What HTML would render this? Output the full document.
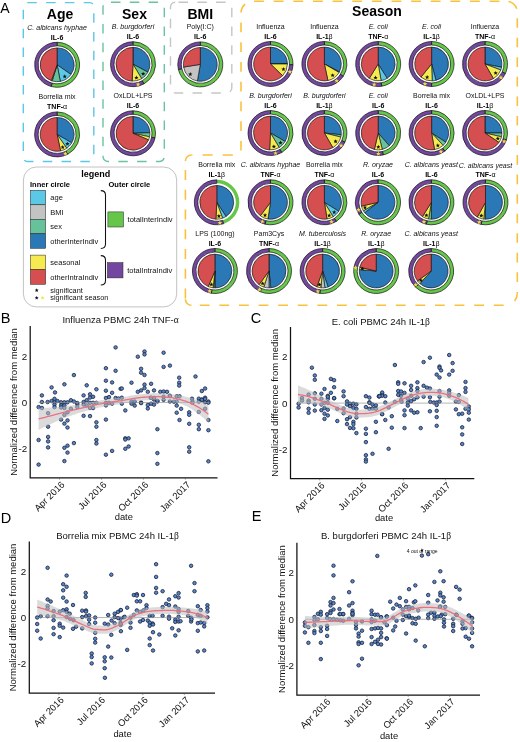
<!DOCTYPE html>
<html><head><meta charset="utf-8"><style>html,body{margin:0;padding:0;background:#fff;}svg{display:block;filter:blur(0.3px);} text{font-family:"Liberation Sans", sans-serif;}</style></head><body>
<svg width="520" height="742" viewBox="0 0 520 742" font-family='"Liberation Sans", sans-serif'>
<rect x="23.3" y="2.6" width="70.5" height="158.9" rx="4" fill="none" stroke="#5BC8E6" stroke-width="1.4" stroke-dasharray="9.5 9.3" stroke-dashoffset="0"/>
<rect x="103" y="2.2" width="61.3" height="159.3" rx="5" fill="none" stroke="#6CC49E" stroke-width="1.4" stroke-dasharray="9.5 9.3" stroke-dashoffset="-3"/>
<rect x="170.5" y="2.2" width="61.3" height="90.8" rx="5" fill="none" stroke="#C6C6C6" stroke-width="1.4" stroke-dasharray="9.5 9.3" stroke-dashoffset="-3"/>
<path d="M253,1.2 L506.3,1.2" fill="none" stroke="#F9C23C" stroke-width="1.6" stroke-dasharray="9.8 9.83" stroke-dashoffset="-1.1"/>
<path d="M506.3,1.2 A11,11 0 0 1 517.3,12.2" fill="none" stroke="#F9C23C" stroke-width="1.6" stroke-dasharray="11.3 48.70" stroke-dashoffset="-2.3"/>
<path d="M517.3,12.2 L517.3,293.3" fill="none" stroke="#F9C23C" stroke-width="1.6" stroke-dasharray="9.6 9.95" stroke-dashoffset="-6.0"/>
<path d="M517.3,293.3 A12,12 0 0 1 505.3,305.3" fill="none" stroke="#F9C23C" stroke-width="1.6" stroke-dasharray="8.2 51.80" stroke-dashoffset="0"/>
<path d="M505.3,305.3 L191.4,305.3" fill="none" stroke="#F9C23C" stroke-width="1.6" stroke-dasharray="9.8 9.80" stroke-dashoffset="-1.7"/>
<path d="M191.4,305.3 A6,6 0 0 1 185.4,299.3" fill="none" stroke="#F9C23C" stroke-width="1.6"/>
<path d="M185.4,161 L185.4,299.3" fill="none" stroke="#F9C23C" stroke-width="1.6" stroke-dasharray="10.0 9.75" stroke-dashoffset="-8.9"/>
<path d="M185.4,161 A6,6 0 0 1 191.4,155.0" fill="none" stroke="#F9C23C" stroke-width="1.6"/>
<path d="M191.4,155.0 L236,155.0" fill="none" stroke="#F9C23C" stroke-width="1.6" stroke-dasharray="10.1 10.10" stroke-dashoffset="-11.1"/>
<path d="M241.0,13.2 L241.0,150.6" fill="none" stroke="#F9C23C" stroke-width="1.6" stroke-dasharray="9.7 10.02" stroke-dashoffset="-9.4"/>
<path d="M241.0,13.2 A12,12 0 0 1 253,1.2" fill="none" stroke="#F9C23C" stroke-width="1.6" stroke-dasharray="9.3 50.70" stroke-dashoffset="-0.8"/>
<text x="60" y="18.6" font-size="14" font-weight="bold" text-anchor="middle">Age</text>
<text x="134.5" y="18.6" font-size="14" font-weight="bold" text-anchor="middle">Sex</text>
<text x="200.3" y="18.6" font-size="14" font-weight="bold" text-anchor="middle">BMI</text>
<text x="377" y="16.3" font-size="14" font-weight="bold" text-anchor="middle">Season</text>
<text x="0.2" y="12.7" font-size="14">A</text>
<path d="M57.1,42.3 A22.5,22.5 0 1 1 51.28,86.53 L52.18,83.15 A19.0,19.0 0 1 0 57.1,45.8 Z" fill="#66C64A" stroke="#111" stroke-width="0.7"/>
<path d="M51.28,86.53 A22.5,22.5 0 0 1 57.1,42.3 L57.1,45.8 A19.0,19.0 0 0 0 52.18,83.15 Z" fill="#7347A0" stroke="#111" stroke-width="0.7"/>
<path d="M57.1,64.8 L57.1,47.9 A16.9,16.9 0 0 1 70.94,74.49 Z" fill="#2A78B5" stroke="#111" stroke-width="0.65" stroke-linejoin="round"/>
<path d="M57.1,64.8 L70.94,74.49 A16.9,16.9 0 0 1 60.32,81.39 Z" fill="#5BC8E6" stroke="#111" stroke-width="0.65" stroke-linejoin="round"/>
<path d="M57.1,64.8 L60.32,81.39 A16.9,16.9 0 0 1 52.16,80.96 Z" fill="#66C29A" stroke="#111" stroke-width="0.65" stroke-linejoin="round"/>
<path d="M57.1,64.8 L52.16,80.96 A16.9,16.9 0 0 1 51.32,80.68 Z" fill="#F5EB50" stroke="#111" stroke-width="0.65" stroke-linejoin="round"/>
<path d="M57.1,64.8 L51.32,80.68 A16.9,16.9 0 0 1 57.1,47.9 Z" fill="#D54E50" stroke="#111" stroke-width="0.65" stroke-linejoin="round"/>
<polygon points="64.72,74.34 65.31,75.74 66.82,75.86 65.67,76.85 66.02,78.32 64.72,77.53 63.43,78.32 63.78,76.85 62.63,75.86 64.14,75.74" fill="#111"/>
<text x="57.1" y="29.6" font-size="7" font-style="italic" text-anchor="middle" fill="#111">C. albicans hyphae</text>
<text x="57.1" y="39.5" font-size="7" font-weight="bold" text-anchor="middle" fill="#000">IL-6</text>
<path d="M57.1,111.9 A22.5,22.5 0 0 1 67.66,154.27 L66.02,151.18 A19.0,19.0 0 0 0 57.1,115.4 Z" fill="#66C64A" stroke="#111" stroke-width="0.7"/>
<path d="M67.66,154.27 A22.5,22.5 0 1 1 57.1,111.9 L57.1,115.4 A19.0,19.0 0 1 0 66.02,151.18 Z" fill="#7347A0" stroke="#111" stroke-width="0.7"/>
<path d="M57.1,134.4 L57.1,117.5 A16.9,16.9 0 0 1 71.74,142.85 Z" fill="#2A78B5" stroke="#111" stroke-width="0.65" stroke-linejoin="round"/>
<path d="M57.1,134.4 L71.74,142.85 A16.9,16.9 0 0 1 66.79,148.24 Z" fill="#5BC8E6" stroke="#111" stroke-width="0.65" stroke-linejoin="round"/>
<path d="M57.1,134.4 L66.79,148.24 A16.9,16.9 0 0 1 60.61,150.93 Z" fill="#F5EB50" stroke="#111" stroke-width="0.65" stroke-linejoin="round"/>
<path d="M57.1,134.4 L60.61,150.93 A16.9,16.9 0 1 1 57.1,117.5 Z" fill="#D54E50" stroke="#111" stroke-width="0.65" stroke-linejoin="round"/>
<polygon points="67.42,141.66 68,143.06 69.51,143.18 68.36,144.16 68.72,145.64 67.42,144.85 66.13,145.64 66.48,144.16 65.33,143.18 66.84,143.06" fill="#111"/>
<polygon points="62.68,145.04 63.26,146.44 64.77,146.56 63.62,147.54 63.98,149.02 62.68,148.23 61.39,149.02 61.74,147.54 60.59,146.56 62.1,146.44" fill="#111"/>
<polygon points="65.43,151.17 66.07,152.69 67.72,152.82 66.46,153.9 66.84,155.51 65.43,154.65 64.02,155.51 64.41,153.9 63.15,152.82 64.8,152.69" fill="#EFD84A"/>
<text x="57.1" y="99.2" font-size="7" text-anchor="middle" fill="#111">Borrelia mix</text>
<text x="57.1" y="109.1" font-size="7" font-weight="bold" text-anchor="middle" fill="#000">TNF-<tspan font-weight="normal">α</tspan></text>
<path d="M133,41.7 A22.5,22.5 0 0 1 143.91,83.88 L142.21,80.82 A19.0,19.0 0 0 0 133,45.2 Z" fill="#66C64A" stroke="#111" stroke-width="0.7"/>
<path d="M143.91,83.88 A22.5,22.5 0 1 1 133,41.7 L133,45.2 A19.0,19.0 0 1 0 142.21,80.82 Z" fill="#7347A0" stroke="#111" stroke-width="0.7"/>
<path d="M133,64.2 L133,47.3 A16.9,16.9 0 0 1 147.92,72.13 Z" fill="#2A78B5" stroke="#111" stroke-width="0.65" stroke-linejoin="round"/>
<path d="M133,64.2 L147.92,72.13 A16.9,16.9 0 0 1 141.7,78.69 Z" fill="#66C29A" stroke="#111" stroke-width="0.65" stroke-linejoin="round"/>
<path d="M133,64.2 L141.7,78.69 A16.9,16.9 0 0 1 132.12,81.08 Z" fill="#F5EB50" stroke="#111" stroke-width="0.65" stroke-linejoin="round"/>
<path d="M133,64.2 L132.12,81.08 A16.9,16.9 0 0 1 133,47.3 Z" fill="#D54E50" stroke="#111" stroke-width="0.65" stroke-linejoin="round"/>
<polygon points="143.16,71.64 143.74,73.04 145.25,73.16 144.1,74.14 144.45,75.62 143.16,74.83 141.86,75.62 142.21,74.14 141.06,73.16 142.57,73.04" fill="#111"/>
<polygon points="136.39,75.58 136.97,76.98 138.48,77.1 137.33,78.09 137.68,79.56 136.39,78.77 135.09,79.56 135.45,78.09 134.29,77.1 135.8,76.98" fill="#111"/>
<polygon points="138.06,82.08 138.69,83.61 140.34,83.74 139.08,84.81 139.47,86.42 138.06,85.56 136.65,86.42 137.03,84.81 135.77,83.74 137.42,83.61" fill="#EFD84A"/>
<text x="133" y="29" font-size="7" font-style="italic" text-anchor="middle" fill="#111">B. burgdorferi</text>
<text x="133" y="38.9" font-size="7" font-weight="bold" text-anchor="middle" fill="#000">IL-6</text>
<path d="M133,110.8 A22.5,22.5 0 0 1 155.01,137.98 L151.58,137.25 A19.0,19.0 0 0 0 133,114.3 Z" fill="#66C64A" stroke="#111" stroke-width="0.7"/>
<path d="M155.01,137.98 A22.5,22.5 0 1 1 133,110.8 L133,114.3 A19.0,19.0 0 1 0 151.58,137.25 Z" fill="#7347A0" stroke="#111" stroke-width="0.7"/>
<path d="M133,133.3 L133,116.4 A16.9,16.9 0 0 1 149.89,132.71 Z" fill="#2A78B5" stroke="#111" stroke-width="0.65" stroke-linejoin="round"/>
<path d="M133,133.3 L149.89,132.71 A16.9,16.9 0 0 1 149.53,136.81 Z" fill="#66C29A" stroke="#111" stroke-width="0.65" stroke-linejoin="round"/>
<path d="M133,133.3 L149.53,136.81 A16.9,16.9 0 0 1 148.56,139.9 Z" fill="#F5EB50" stroke="#111" stroke-width="0.65" stroke-linejoin="round"/>
<path d="M133,133.3 L148.56,139.9 A16.9,16.9 0 1 1 133,116.4 Z" fill="#D54E50" stroke="#111" stroke-width="0.65" stroke-linejoin="round"/>
<text x="133" y="98.1" font-size="7" text-anchor="middle" fill="#111">OxLDL+LPS</text>
<text x="133" y="108" font-size="7" font-weight="bold" text-anchor="middle" fill="#000">IL-6</text>
<path d="M200.3,41.9 A22.5,22.5 0 1 1 178.38,69.46 L181.79,68.67 A19.0,19.0 0 1 0 200.3,45.4 Z" fill="#66C64A" stroke="#111" stroke-width="0.7"/>
<path d="M178.38,69.46 A22.5,22.5 0 0 1 200.3,41.9 L200.3,45.4 A19.0,19.0 0 0 0 181.79,68.67 Z" fill="#7347A0" stroke="#111" stroke-width="0.7"/>
<path d="M200.3,64.4 L200.3,47.5 A16.9,16.9 0 1 1 197.37,81.04 Z" fill="#2A78B5" stroke="#111" stroke-width="0.65" stroke-linejoin="round"/>
<path d="M200.3,64.4 L197.37,81.04 A16.9,16.9 0 0 1 183.61,67.04 Z" fill="#C3C3C3" stroke="#111" stroke-width="0.65" stroke-linejoin="round"/>
<path d="M200.3,64.4 L183.61,67.04 A16.9,16.9 0 0 1 200.3,47.5 Z" fill="#D54E50" stroke="#111" stroke-width="0.65" stroke-linejoin="round"/>
<polygon points="190.31,72.01 190.9,73.41 192.41,73.53 191.26,74.52 191.61,75.99 190.31,75.2 189.02,75.99 189.37,74.52 188.22,73.53 189.73,73.41" fill="#111"/>
<text x="200.3" y="29.2" font-size="7" text-anchor="middle" fill="#111">Poly(I:C)</text>
<text x="200.3" y="39.1" font-size="7" font-weight="bold" text-anchor="middle" fill="#000">IL-6</text>
<path d="M270.5,41.5 A22.5,22.5 0 0 1 292.99,64.79 L289.49,64.66 A19.0,19.0 0 0 0 270.5,45 Z" fill="#66C64A" stroke="#111" stroke-width="0.7"/>
<path d="M292.99,64.79 A22.5,22.5 0 1 1 270.5,41.5 L270.5,45 A19.0,19.0 0 1 0 289.49,64.66 Z" fill="#7347A0" stroke="#111" stroke-width="0.7"/>
<path d="M270.5,64 L270.5,47.1 A16.9,16.9 0 0 1 287.39,63.41 Z" fill="#2A78B5" stroke="#111" stroke-width="0.65" stroke-linejoin="round"/>
<path d="M270.5,64 L287.39,63.41 A16.9,16.9 0 0 1 287.4,64 Z" fill="#5BC8E6" stroke="#111" stroke-width="0.65" stroke-linejoin="round"/>
<path d="M270.5,64 L287.4,64 A16.9,16.9 0 0 1 282.66,75.74 Z" fill="#F5EB50" stroke="#111" stroke-width="0.65" stroke-linejoin="round"/>
<path d="M270.5,64 L282.66,75.74 A16.9,16.9 0 1 1 270.5,47.1 Z" fill="#D54E50" stroke="#111" stroke-width="0.65" stroke-linejoin="round"/>
<polygon points="283.48,67.04 284.06,68.44 285.57,68.56 284.42,69.55 284.77,71.02 283.48,70.23 282.19,71.02 282.54,69.55 281.39,68.56 282.9,68.44" fill="#111"/>
<polygon points="289.88,69.43 290.51,70.96 292.16,71.09 290.91,72.16 291.29,73.77 289.88,72.91 288.47,73.77 288.85,72.16 287.6,71.09 289.24,70.96" fill="#EFD84A"/>
<text x="270.5" y="28.8" font-size="7" text-anchor="middle" fill="#111">Influenza</text>
<text x="270.5" y="38.7" font-size="7" font-weight="bold" text-anchor="middle" fill="#000">IL-6</text>
<path d="M324.4,41.5 A22.5,22.5 0 0 1 343.27,76.25 L340.33,74.35 A19.0,19.0 0 0 0 324.4,45 Z" fill="#66C64A" stroke="#111" stroke-width="0.7"/>
<path d="M343.27,76.25 A22.5,22.5 0 1 1 324.4,41.5 L324.4,45 A19.0,19.0 0 1 0 340.33,74.35 Z" fill="#7347A0" stroke="#111" stroke-width="0.7"/>
<path d="M324.4,64 L324.4,47.1 A16.9,16.9 0 0 1 339.32,71.93 Z" fill="#2A78B5" stroke="#111" stroke-width="0.65" stroke-linejoin="round"/>
<path d="M324.4,64 L339.32,71.93 A16.9,16.9 0 0 1 339.04,72.45 Z" fill="#5BC8E6" stroke="#111" stroke-width="0.65" stroke-linejoin="round"/>
<path d="M324.4,64 L339.04,72.45 A16.9,16.9 0 0 1 327.91,80.53 Z" fill="#F5EB50" stroke="#111" stroke-width="0.65" stroke-linejoin="round"/>
<path d="M324.4,64 L327.91,80.53 A16.9,16.9 0 1 1 324.4,47.1 Z" fill="#D54E50" stroke="#111" stroke-width="0.65" stroke-linejoin="round"/>
<polygon points="332.63,73.13 333.21,74.53 334.72,74.65 333.57,75.63 333.92,77.11 332.63,76.32 331.34,77.11 331.69,75.63 330.54,74.65 332.05,74.53" fill="#111"/>
<polygon points="336.68,78.51 337.32,80.03 338.97,80.17 337.71,81.24 338.1,82.85 336.68,81.99 335.27,82.85 335.66,81.24 334.4,80.17 336.05,80.03" fill="#EFD84A"/>
<text x="324.4" y="28.8" font-size="7" text-anchor="middle" fill="#111">Influenza</text>
<text x="324.4" y="38.7" font-size="7" font-weight="bold" text-anchor="middle" fill="#000">IL-1<tspan font-weight="normal">β</tspan></text>
<path d="M378.2,41.5 A22.5,22.5 0 0 1 381.72,86.22 L381.17,82.77 A19.0,19.0 0 0 0 378.2,45 Z" fill="#66C64A" stroke="#111" stroke-width="0.7"/>
<path d="M381.72,86.22 A22.5,22.5 0 1 1 378.2,41.5 L378.2,45 A19.0,19.0 0 1 0 381.17,82.77 Z" fill="#7347A0" stroke="#111" stroke-width="0.7"/>
<path d="M378.2,64 L378.2,47.1 A16.9,16.9 0 0 1 387.16,78.33 Z" fill="#2A78B5" stroke="#111" stroke-width="0.65" stroke-linejoin="round"/>
<path d="M378.2,64 L387.16,78.33 A16.9,16.9 0 0 1 381.13,80.64 Z" fill="#5BC8E6" stroke="#111" stroke-width="0.65" stroke-linejoin="round"/>
<path d="M378.2,64 L381.13,80.64 A16.9,16.9 0 0 1 369.24,78.33 Z" fill="#F5EB50" stroke="#111" stroke-width="0.65" stroke-linejoin="round"/>
<path d="M378.2,64 L369.24,78.33 A16.9,16.9 0 0 1 378.2,47.1 Z" fill="#D54E50" stroke="#111" stroke-width="0.65" stroke-linejoin="round"/>
<polygon points="375.53,75.54 376.11,76.94 377.62,77.06 376.47,78.05 376.82,79.52 375.53,78.73 374.24,79.52 374.59,78.05 373.44,77.06 374.95,76.94" fill="#111"/>
<polygon points="374.21,82.12 374.85,83.64 376.49,83.77 375.24,84.85 375.62,86.46 374.21,85.6 372.8,86.46 373.18,84.85 371.93,83.77 373.58,83.64" fill="#EFD84A"/>
<text x="378.2" y="28.8" font-size="7" font-style="italic" text-anchor="middle" fill="#111">E. coli</text>
<text x="378.2" y="38.7" font-size="7" font-weight="bold" text-anchor="middle" fill="#000">TNF-<tspan font-weight="normal">α</tspan></text>
<path d="M431.6,41.5 A22.5,22.5 0 0 1 431.6,86.5 L431.6,83 A19.0,19.0 0 0 0 431.6,45 Z" fill="#66C64A" stroke="#111" stroke-width="0.7"/>
<path d="M431.6,86.5 A22.5,22.5 0 0 1 431.6,41.5 L431.6,45 A19.0,19.0 0 0 0 431.6,83 Z" fill="#7347A0" stroke="#111" stroke-width="0.7"/>
<path d="M431.6,64 L431.6,47.1 A16.9,16.9 0 0 1 435.97,80.32 Z" fill="#2A78B5" stroke="#111" stroke-width="0.65" stroke-linejoin="round"/>
<path d="M431.6,64 L435.97,80.32 A16.9,16.9 0 0 1 432.19,80.89 Z" fill="#5BC8E6" stroke="#111" stroke-width="0.65" stroke-linejoin="round"/>
<path d="M431.6,64 L432.19,80.89 A16.9,16.9 0 0 1 420.96,77.13 Z" fill="#F5EB50" stroke="#111" stroke-width="0.65" stroke-linejoin="round"/>
<path d="M431.6,64 L420.96,77.13 A16.9,16.9 0 0 1 431.6,47.1 Z" fill="#D54E50" stroke="#111" stroke-width="0.65" stroke-linejoin="round"/>
<polygon points="427.16,75.08 427.74,76.48 429.25,76.6 428.1,77.58 428.45,79.06 427.16,78.27 425.86,79.06 426.22,77.58 425.07,76.6 426.58,76.48" fill="#111"/>
<polygon points="424.97,81.42 425.6,82.95 427.25,83.08 426,84.15 426.38,85.76 424.97,84.9 423.56,85.76 423.94,84.15 422.69,83.08 424.33,82.95" fill="#EFD84A"/>
<text x="431.6" y="28.8" font-size="7" font-style="italic" text-anchor="middle" fill="#111">E. coli</text>
<text x="431.6" y="38.7" font-size="7" font-weight="bold" text-anchor="middle" fill="#000">IL-1<tspan font-weight="normal">β</tspan></text>
<path d="M485,41.5 A22.5,22.5 0 0 1 505.39,73.51 L502.22,72.03 A19.0,19.0 0 0 0 485,45 Z" fill="#66C64A" stroke="#111" stroke-width="0.7"/>
<path d="M505.39,73.51 A22.5,22.5 0 1 1 485,41.5 L485,45 A19.0,19.0 0 1 0 502.22,72.03 Z" fill="#7347A0" stroke="#111" stroke-width="0.7"/>
<path d="M485,64 L485,47.1 A16.9,16.9 0 0 1 501.59,67.22 Z" fill="#2A78B5" stroke="#111" stroke-width="0.65" stroke-linejoin="round"/>
<path d="M485,64 L501.59,67.22 A16.9,16.9 0 0 1 500.78,70.06 Z" fill="#5BC8E6" stroke="#111" stroke-width="0.65" stroke-linejoin="round"/>
<path d="M485,64 L500.78,70.06 A16.9,16.9 0 0 1 493.45,78.64 Z" fill="#F5EB50" stroke="#111" stroke-width="0.65" stroke-linejoin="round"/>
<path d="M485,64 L493.45,78.64 A16.9,16.9 0 1 1 485,47.1 Z" fill="#D54E50" stroke="#111" stroke-width="0.65" stroke-linejoin="round"/>
<polygon points="495.65,70.89 496.23,72.29 497.74,72.41 496.59,73.4 496.94,74.87 495.65,74.08 494.35,74.87 494.7,73.4 493.55,72.41 495.06,72.29" fill="#111"/>
<polygon points="500.89,75.17 501.53,76.7 503.18,76.83 501.92,77.91 502.3,79.52 500.89,78.65 499.48,79.52 499.87,77.91 498.61,76.83 500.26,76.7" fill="#EFD84A"/>
<text x="485" y="28.8" font-size="7" text-anchor="middle" fill="#111">Influenza</text>
<text x="485" y="38.7" font-size="7" font-weight="bold" text-anchor="middle" fill="#000">TNF-<tspan font-weight="normal">α</tspan></text>
<path d="M270.5,110.5 A22.5,22.5 0 0 1 281.75,152.49 L280,149.45 A19.0,19.0 0 0 0 270.5,114 Z" fill="#66C64A" stroke="#111" stroke-width="0.7"/>
<path d="M281.75,152.49 A22.5,22.5 0 1 1 270.5,110.5 L270.5,114 A19.0,19.0 0 1 0 280,149.45 Z" fill="#7347A0" stroke="#111" stroke-width="0.7"/>
<path d="M270.5,133 L270.5,116.1 A16.9,16.9 0 0 1 285.14,141.45 Z" fill="#2A78B5" stroke="#111" stroke-width="0.65" stroke-linejoin="round"/>
<path d="M270.5,133 L285.14,141.45 A16.9,16.9 0 0 1 279.2,147.49 Z" fill="#66C29A" stroke="#111" stroke-width="0.65" stroke-linejoin="round"/>
<path d="M270.5,133 L279.2,147.49 A16.9,16.9 0 0 1 269.62,149.88 Z" fill="#F5EB50" stroke="#111" stroke-width="0.65" stroke-linejoin="round"/>
<path d="M270.5,133 L269.62,149.88 A16.9,16.9 0 0 1 270.5,116.1 Z" fill="#D54E50" stroke="#111" stroke-width="0.65" stroke-linejoin="round"/>
<polygon points="280.49,140.61 281.07,142.01 282.58,142.13 281.43,143.12 281.78,144.59 280.49,143.8 279.19,144.59 279.54,143.12 278.39,142.13 279.9,142.01" fill="#111"/>
<polygon points="273.89,144.38 274.47,145.78 275.98,145.9 274.83,146.89 275.18,148.36 273.89,147.57 272.59,148.36 272.95,146.89 271.79,145.9 273.3,145.78" fill="#111"/>
<polygon points="275.56,150.88 276.19,152.41 277.84,152.54 276.58,153.61 276.97,155.22 275.56,154.36 274.15,155.22 274.53,153.61 273.27,152.54 274.92,152.41" fill="#EFD84A"/>
<text x="270.5" y="97.8" font-size="7" font-style="italic" text-anchor="middle" fill="#111">B. burgdorferi</text>
<text x="270.5" y="107.7" font-size="7" font-weight="bold" text-anchor="middle" fill="#000">IL-6</text>
<path d="M324.4,110.5 A22.5,22.5 0 0 1 344.95,142.15 L341.76,140.73 A19.0,19.0 0 0 0 324.4,114 Z" fill="#66C64A" stroke="#111" stroke-width="0.7"/>
<path d="M344.95,142.15 A22.5,22.5 0 1 1 324.4,110.5 L324.4,114 A19.0,19.0 0 1 0 341.76,140.73 Z" fill="#7347A0" stroke="#111" stroke-width="0.7"/>
<path d="M324.4,133 L324.4,116.1 A16.9,16.9 0 0 1 341.21,134.77 Z" fill="#2A78B5" stroke="#111" stroke-width="0.65" stroke-linejoin="round"/>
<path d="M324.4,133 L341.21,134.77 A16.9,16.9 0 0 1 340.8,137.09 Z" fill="#66C29A" stroke="#111" stroke-width="0.65" stroke-linejoin="round"/>
<path d="M324.4,133 L340.8,137.09 A16.9,16.9 0 0 1 332.85,147.64 Z" fill="#F5EB50" stroke="#111" stroke-width="0.65" stroke-linejoin="round"/>
<path d="M324.4,133 L332.85,147.64 A16.9,16.9 0 1 1 324.4,116.1 Z" fill="#D54E50" stroke="#111" stroke-width="0.65" stroke-linejoin="round"/>
<polygon points="335.58,139.23 336.16,140.62 337.67,140.75 336.52,141.73 336.87,143.21 335.58,142.42 334.29,143.21 334.64,141.73 333.49,140.75 335,140.62" fill="#111"/>
<polygon points="341.09,143.18 341.73,144.7 343.37,144.84 342.12,145.91 342.5,147.52 341.09,146.66 339.68,147.52 340.06,145.91 338.81,144.84 340.46,144.7" fill="#EFD84A"/>
<text x="324.4" y="97.8" font-size="7" font-style="italic" text-anchor="middle" fill="#111">B. burgdorferi</text>
<text x="324.4" y="107.7" font-size="7" font-weight="bold" text-anchor="middle" fill="#000">IL-1<tspan font-weight="normal">β</tspan></text>
<path d="M378.2,110.5 A22.5,22.5 0 0 1 383.26,154.92 L382.47,151.51 A19.0,19.0 0 0 0 378.2,114 Z" fill="#66C64A" stroke="#111" stroke-width="0.7"/>
<path d="M383.26,154.92 A22.5,22.5 0 1 1 378.2,110.5 L378.2,114 A19.0,19.0 0 1 0 382.47,151.51 Z" fill="#7347A0" stroke="#111" stroke-width="0.7"/>
<path d="M378.2,133 L378.2,116.1 A16.9,16.9 0 0 1 389.29,145.75 Z" fill="#2A78B5" stroke="#111" stroke-width="0.65" stroke-linejoin="round"/>
<path d="M378.2,133 L389.29,145.75 A16.9,16.9 0 0 1 382.29,149.4 Z" fill="#66C29A" stroke="#111" stroke-width="0.65" stroke-linejoin="round"/>
<path d="M378.2,133 L382.29,149.4 A16.9,16.9 0 0 1 374.4,149.47 Z" fill="#F5EB50" stroke="#111" stroke-width="0.65" stroke-linejoin="round"/>
<path d="M378.2,133 L374.4,149.47 A16.9,16.9 0 0 1 378.2,116.1 Z" fill="#D54E50" stroke="#111" stroke-width="0.65" stroke-linejoin="round"/>
<polygon points="378.32,144.8 378.9,146.2 380.41,146.32 379.26,147.31 379.62,148.78 378.32,147.99 377.03,148.78 377.38,147.31 376.23,146.32 377.74,146.2" fill="#111"/>
<polygon points="378.38,151.5 379.02,153.03 380.66,153.16 379.41,154.23 379.79,155.84 378.38,154.98 376.97,155.84 377.36,154.23 376.1,153.16 377.75,153.03" fill="#EFD84A"/>
<text x="378.2" y="97.8" font-size="7" font-style="italic" text-anchor="middle" fill="#111">E. coli</text>
<text x="378.2" y="107.7" font-size="7" font-weight="bold" text-anchor="middle" fill="#000">IL-6</text>
<path d="M431.6,110.5 A22.5,22.5 0 0 1 444.83,151.2 L442.77,148.37 A19.0,19.0 0 0 0 431.6,114 Z" fill="#66C64A" stroke="#111" stroke-width="0.7"/>
<path d="M444.83,151.2 A22.5,22.5 0 1 1 431.6,110.5 L431.6,114 A19.0,19.0 0 1 0 442.77,148.37 Z" fill="#7347A0" stroke="#111" stroke-width="0.7"/>
<path d="M431.6,133 L431.6,116.1 A16.9,16.9 0 0 1 445.77,142.2 Z" fill="#2A78B5" stroke="#111" stroke-width="0.65" stroke-linejoin="round"/>
<path d="M431.6,133 L445.77,142.2 A16.9,16.9 0 0 1 443.13,145.36 Z" fill="#66C29A" stroke="#111" stroke-width="0.65" stroke-linejoin="round"/>
<path d="M431.6,133 L443.13,145.36 A16.9,16.9 0 0 1 434.53,149.64 Z" fill="#F5EB50" stroke="#111" stroke-width="0.65" stroke-linejoin="round"/>
<path d="M431.6,133 L434.53,149.64 A16.9,16.9 0 1 1 431.6,116.1 Z" fill="#D54E50" stroke="#111" stroke-width="0.65" stroke-linejoin="round"/>
<polygon points="437.85,143.33 438.43,144.73 439.94,144.85 438.79,145.84 439.14,147.31 437.85,146.52 436.55,147.31 436.91,145.84 435.75,144.85 437.26,144.73" fill="#111"/>
<polygon points="440.93,149.3 441.56,150.83 443.21,150.96 441.95,152.04 442.34,153.65 440.93,152.78 439.51,153.65 439.9,152.04 438.64,150.96 440.29,150.83" fill="#EFD84A"/>
<text x="431.6" y="97.8" font-size="7" text-anchor="middle" fill="#111">Borrelia mix</text>
<text x="431.6" y="107.7" font-size="7" font-weight="bold" text-anchor="middle" fill="#000">IL-6</text>
<path d="M485,110.5 A22.5,22.5 0 0 1 506.4,139.95 L503.07,138.87 A19.0,19.0 0 0 0 485,114 Z" fill="#66C64A" stroke="#111" stroke-width="0.7"/>
<path d="M506.4,139.95 A22.5,22.5 0 1 1 485,110.5 L485,114 A19.0,19.0 0 1 0 503.07,138.87 Z" fill="#7347A0" stroke="#111" stroke-width="0.7"/>
<path d="M485,133 L485,116.1 A16.9,16.9 0 0 1 501.9,133 Z" fill="#2A78B5" stroke="#111" stroke-width="0.65" stroke-linejoin="round"/>
<path d="M485,133 L501.9,133 A16.9,16.9 0 0 1 501.47,136.8 Z" fill="#66C29A" stroke="#111" stroke-width="0.65" stroke-linejoin="round"/>
<path d="M485,133 L501.47,136.8 A16.9,16.9 0 0 1 499.01,142.45 Z" fill="#F5EB50" stroke="#111" stroke-width="0.65" stroke-linejoin="round"/>
<path d="M485,133 L499.01,142.45 A16.9,16.9 0 1 1 485,116.1 Z" fill="#D54E50" stroke="#111" stroke-width="0.65" stroke-linejoin="round"/>
<polygon points="497.84,136.38 498.42,137.78 499.93,137.9 498.78,138.89 499.13,140.36 497.84,139.57 496.55,140.36 496.9,138.89 495.75,137.9 497.26,137.78" fill="#111"/>
<polygon points="504.17,138.93 504.8,140.46 506.45,140.59 505.19,141.67 505.58,143.28 504.17,142.41 502.76,143.28 503.14,141.67 501.88,140.59 503.53,140.46" fill="#EFD84A"/>
<text x="485" y="97.8" font-size="7" text-anchor="middle" fill="#111">OxLDL+LPS</text>
<text x="485" y="107.7" font-size="7" font-weight="bold" text-anchor="middle" fill="#000">IL-1<tspan font-weight="normal">β</tspan></text>
<path d="M216.8,179.8 A22.5,22.5 0 0 1 223.75,223.7 L222.67,220.37 A19.0,19.0 0 0 0 216.8,183.3 Z" fill="#66C64A" stroke="none" stroke-width="0.7"/>
<path d="M223.75,223.7 A22.5,22.5 0 1 1 216.8,179.8 L216.8,183.3 A19.0,19.0 0 1 0 222.67,220.37 Z" fill="#7347A0" stroke="#111" stroke-width="0.7"/>
<path d="M216.8,202.3 L216.8,185.4 A16.9,16.9 0 0 1 226,216.47 Z" fill="#2A78B5" stroke="#111" stroke-width="0.65" stroke-linejoin="round"/>
<path d="M216.8,202.3 L226,216.47 A16.9,16.9 0 0 1 222.58,218.18 Z" fill="#5BC8E6" stroke="#111" stroke-width="0.65" stroke-linejoin="round"/>
<path d="M216.8,202.3 L222.58,218.18 A16.9,16.9 0 0 1 215.92,219.18 Z" fill="#F5EB50" stroke="#111" stroke-width="0.65" stroke-linejoin="round"/>
<path d="M216.8,202.3 L215.92,219.18 A16.9,16.9 0 0 1 216.8,185.4 Z" fill="#D54E50" stroke="#111" stroke-width="0.65" stroke-linejoin="round"/>
<polygon points="218.87,213.95 219.45,215.35 220.96,215.47 219.81,216.45 220.16,217.93 218.87,217.14 217.58,217.93 217.93,216.45 216.78,215.47 218.29,215.35" fill="#111"/>
<polygon points="219.89,220.57 220.52,222.1 222.17,222.23 220.92,223.3 221.3,224.91 219.89,224.05 218.48,224.91 218.86,223.3 217.61,222.23 219.25,222.1" fill="#EFD84A"/>
<text x="216.8" y="167.1" font-size="7" text-anchor="middle" fill="#111">Borrelia mix</text>
<text x="216.8" y="177" font-size="7" font-weight="bold" text-anchor="middle" fill="#000">IL-1<tspan font-weight="normal">β</tspan></text>
<path d="M270.5,179.8 A22.5,22.5 0 1 1 265.06,224.13 L265.9,220.74 A19.0,19.0 0 1 0 270.5,183.3 Z" fill="#66C64A" stroke="#111" stroke-width="0.7"/>
<path d="M265.06,224.13 A22.5,22.5 0 0 1 270.5,179.8 L270.5,183.3 A19.0,19.0 0 0 0 265.9,220.74 Z" fill="#7347A0" stroke="#111" stroke-width="0.7"/>
<path d="M270.5,202.3 L270.5,185.4 A16.9,16.9 0 1 1 267.86,218.99 Z" fill="#2A78B5" stroke="#111" stroke-width="0.65" stroke-linejoin="round"/>
<path d="M270.5,202.3 L267.86,218.99 A16.9,16.9 0 0 1 260.33,215.8 Z" fill="#F5EB50" stroke="#111" stroke-width="0.65" stroke-linejoin="round"/>
<path d="M270.5,202.3 L260.33,215.8 A16.9,16.9 0 0 1 270.5,185.4 Z" fill="#D54E50" stroke="#111" stroke-width="0.65" stroke-linejoin="round"/>
<polygon points="265.03,212.99 265.61,214.39 267.12,214.51 265.97,215.49 266.32,216.97 265.03,216.18 263.74,216.97 264.09,215.49 262.94,214.51 264.45,214.39" fill="#111"/>
<polygon points="262.33,219.14 262.97,220.66 264.62,220.8 263.36,221.87 263.74,223.48 262.33,222.62 260.92,223.48 261.31,221.87 260.05,220.8 261.7,220.66" fill="#EFD84A"/>
<text x="270.5" y="167.1" font-size="7" font-style="italic" text-anchor="middle" fill="#111">C. albicans hyphae</text>
<text x="270.5" y="177" font-size="7" font-weight="bold" text-anchor="middle" fill="#000">TNF-<tspan font-weight="normal">α</tspan></text>
<path d="M324.4,179.8 A22.5,22.5 0 0 1 336.32,221.38 L334.47,218.41 A19.0,19.0 0 0 0 324.4,183.3 Z" fill="#66C64A" stroke="#111" stroke-width="0.7"/>
<path d="M336.32,221.38 A22.5,22.5 0 1 1 324.4,179.8 L324.4,183.3 A19.0,19.0 0 1 0 334.47,218.41 Z" fill="#7347A0" stroke="#111" stroke-width="0.7"/>
<path d="M324.4,202.3 L324.4,185.4 A16.9,16.9 0 0 1 338.73,211.26 Z" fill="#2A78B5" stroke="#111" stroke-width="0.65" stroke-linejoin="round"/>
<path d="M324.4,202.3 L338.73,211.26 A16.9,16.9 0 0 1 333.1,216.79 Z" fill="#5BC8E6" stroke="#111" stroke-width="0.65" stroke-linejoin="round"/>
<path d="M324.4,202.3 L333.1,216.79 A16.9,16.9 0 0 1 327.04,218.99 Z" fill="#F5EB50" stroke="#111" stroke-width="0.65" stroke-linejoin="round"/>
<path d="M324.4,202.3 L327.04,218.99 A16.9,16.9 0 1 1 324.4,185.4 Z" fill="#D54E50" stroke="#111" stroke-width="0.65" stroke-linejoin="round"/>
<polygon points="334.21,210.09 334.79,211.48 336.31,211.61 335.15,212.59 335.51,214.07 334.21,213.28 332.92,214.07 333.27,212.59 332.12,211.61 333.63,211.48" fill="#111"/>
<polygon points="329.19,213.26 329.77,214.65 331.28,214.78 330.13,215.76 330.48,217.24 329.19,216.45 327.9,217.24 328.25,215.76 327.1,214.78 328.61,214.65" fill="#111"/>
<polygon points="331.55,219.54 332.18,221.07 333.83,221.2 332.58,222.27 332.96,223.88 331.55,223.02 330.14,223.88 330.52,222.27 329.27,221.2 330.91,221.07" fill="#EFD84A"/>
<text x="324.4" y="167.1" font-size="7" text-anchor="middle" fill="#111">Borrelia mix</text>
<text x="324.4" y="177" font-size="7" font-weight="bold" text-anchor="middle" fill="#000">TNF-<tspan font-weight="normal">α</tspan></text>
<path d="M378,179.8 A22.5,22.5 0 1 1 358.92,214.22 L361.89,212.37 A19.0,19.0 0 1 0 378,183.3 Z" fill="#66C64A" stroke="#111" stroke-width="0.7"/>
<path d="M358.92,214.22 A22.5,22.5 0 0 1 378,179.8 L378,183.3 A19.0,19.0 0 0 0 361.89,212.37 Z" fill="#7347A0" stroke="#111" stroke-width="0.7"/>
<path d="M378,202.3 L378,185.4 A16.9,16.9 0 1 1 364.68,212.7 Z" fill="#2A78B5" stroke="#111" stroke-width="0.65" stroke-linejoin="round"/>
<path d="M378,202.3 L364.68,212.7 A16.9,16.9 0 0 1 363.36,210.75 Z" fill="#5BC8E6" stroke="#111" stroke-width="0.65" stroke-linejoin="round"/>
<path d="M378,202.3 L363.36,210.75 A16.9,16.9 0 0 1 361.53,206.1 Z" fill="#F5EB50" stroke="#111" stroke-width="0.65" stroke-linejoin="round"/>
<path d="M378,202.3 L361.53,206.1 A16.9,16.9 0 0 1 378,185.4 Z" fill="#D54E50" stroke="#111" stroke-width="0.65" stroke-linejoin="round"/>
<polygon points="364.97,205.23 365.56,206.63 367.07,206.75 365.92,207.74 366.27,209.21 364.97,208.42 363.68,209.21 364.03,207.74 362.88,206.75 364.39,206.63" fill="#111"/>
<polygon points="358.55,207.56 359.19,209.09 360.84,209.22 359.58,210.29 359.96,211.9 358.55,211.04 357.14,211.9 357.53,210.29 356.27,209.22 357.92,209.09" fill="#EFD84A"/>
<text x="378" y="167.1" font-size="7" font-style="italic" text-anchor="middle" fill="#111">R. oryzae</text>
<text x="378" y="177" font-size="7" font-weight="bold" text-anchor="middle" fill="#000">IL-6</text>
<path d="M431.4,179.8 A22.5,22.5 0 1 1 426.34,224.22 L427.13,220.81 A19.0,19.0 0 1 0 431.4,183.3 Z" fill="#66C64A" stroke="#111" stroke-width="0.7"/>
<path d="M426.34,224.22 A22.5,22.5 0 0 1 431.4,179.8 L431.4,183.3 A19.0,19.0 0 0 0 427.13,220.81 Z" fill="#7347A0" stroke="#111" stroke-width="0.7"/>
<path d="M431.4,202.3 L431.4,185.4 A16.9,16.9 0 0 1 431.4,219.2 Z" fill="#2A78B5" stroke="#111" stroke-width="0.65" stroke-linejoin="round"/>
<path d="M431.4,202.3 L431.4,219.2 A16.9,16.9 0 0 1 428.47,218.94 Z" fill="#66C29A" stroke="#111" stroke-width="0.65" stroke-linejoin="round"/>
<path d="M431.4,202.3 L428.47,218.94 A16.9,16.9 0 0 1 422.44,216.63 Z" fill="#F5EB50" stroke="#111" stroke-width="0.65" stroke-linejoin="round"/>
<path d="M431.4,202.3 L422.44,216.63 A16.9,16.9 0 0 1 431.4,185.4 Z" fill="#D54E50" stroke="#111" stroke-width="0.65" stroke-linejoin="round"/>
<polygon points="426.38,213.17 426.96,214.57 428.48,214.69 427.32,215.68 427.68,217.15 426.38,216.36 425.09,217.15 425.44,215.68 424.29,214.69 425.8,214.57" fill="#111"/>
<polygon points="423.91,219.41 424.54,220.94 426.19,221.07 424.94,222.15 425.32,223.75 423.91,222.89 422.5,223.75 422.88,222.15 421.63,221.07 423.28,220.94" fill="#EFD84A"/>
<text x="431.4" y="167.1" font-size="7" font-style="italic" text-anchor="middle" fill="#111">C. albicans yeast</text>
<text x="431.4" y="177" font-size="7" font-weight="bold" text-anchor="middle" fill="#000">IL-6</text>
<path d="M485.5,179.8 A22.5,22.5 0 1 1 481.21,224.39 L481.87,220.95 A19.0,19.0 0 1 0 485.5,183.3 Z" fill="#66C64A" stroke="#111" stroke-width="0.7"/>
<path d="M481.21,224.39 A22.5,22.5 0 0 1 485.5,179.8 L485.5,183.3 A19.0,19.0 0 0 0 481.87,220.95 Z" fill="#7347A0" stroke="#111" stroke-width="0.7"/>
<path d="M485.5,202.3 L485.5,185.4 A16.9,16.9 0 0 1 485.5,219.2 Z" fill="#2A78B5" stroke="#111" stroke-width="0.65" stroke-linejoin="round"/>
<path d="M485.5,202.3 L485.5,219.2 A16.9,16.9 0 0 1 483.73,219.11 Z" fill="#66C29A" stroke="#111" stroke-width="0.65" stroke-linejoin="round"/>
<path d="M485.5,202.3 L483.73,219.11 A16.9,16.9 0 0 1 477.31,217.08 Z" fill="#F5EB50" stroke="#111" stroke-width="0.65" stroke-linejoin="round"/>
<path d="M485.5,202.3 L477.31,217.08 A16.9,16.9 0 0 1 485.5,185.4 Z" fill="#D54E50" stroke="#111" stroke-width="0.65" stroke-linejoin="round"/>
<polygon points="481.29,213.45 481.87,214.85 483.38,214.97 482.23,215.96 482.58,217.43 481.29,216.64 480,217.43 480.35,215.96 479.2,214.97 480.71,214.85" fill="#111"/>
<polygon points="479.22,219.83 479.85,221.36 481.5,221.49 480.24,222.57 480.63,224.17 479.22,223.31 477.8,224.17 478.19,222.57 476.93,221.49 478.58,221.36" fill="#EFD84A"/>
<text x="485.5" y="168.3" font-size="7" font-style="italic" text-anchor="middle" fill="#111">C. albicans yeast</text>
<text x="485.5" y="177" font-size="7" font-weight="bold" text-anchor="middle" fill="#000">TNF-<tspan font-weight="normal">α</tspan></text>
<path d="M214.9,248.5 A22.5,22.5 0 1 1 211.38,293.22 L211.93,289.77 A19.0,19.0 0 1 0 214.9,252 Z" fill="#66C64A" stroke="#111" stroke-width="0.7"/>
<path d="M211.38,293.22 A22.5,22.5 0 0 1 214.9,248.5 L214.9,252 A19.0,19.0 0 0 0 211.93,289.77 Z" fill="#7347A0" stroke="#111" stroke-width="0.7"/>
<path d="M214.9,271 L214.9,254.1 A16.9,16.9 0 0 1 215.49,287.89 Z" fill="#2A78B5" stroke="#111" stroke-width="0.65" stroke-linejoin="round"/>
<path d="M214.9,271 L215.49,287.89 A16.9,16.9 0 0 1 214.02,287.88 Z" fill="#5BC8E6" stroke="#111" stroke-width="0.65" stroke-linejoin="round"/>
<path d="M214.9,271 L214.02,287.88 A16.9,16.9 0 0 1 213.13,287.81 Z" fill="#66C29A" stroke="#111" stroke-width="0.65" stroke-linejoin="round"/>
<path d="M214.9,271 L213.13,287.81 A16.9,16.9 0 0 1 208.3,286.56 Z" fill="#F5EB50" stroke="#111" stroke-width="0.65" stroke-linejoin="round"/>
<path d="M214.9,271 L208.3,286.56 A16.9,16.9 0 0 1 214.9,254.1 Z" fill="#D54E50" stroke="#111" stroke-width="0.65" stroke-linejoin="round"/>
<polygon points="211.39,282.35 211.98,283.75 213.49,283.87 212.34,284.86 212.69,286.33 211.39,285.54 210.1,286.33 210.45,284.86 209.3,283.87 210.81,283.75" fill="#111"/>
<polygon points="209.67,288.83 210.3,290.36 211.95,290.49 210.69,291.57 211.08,293.18 209.67,292.31 208.26,293.18 208.64,291.57 207.38,290.49 209.03,290.36" fill="#EFD84A"/>
<text x="214.9" y="235.8" font-size="7" text-anchor="middle" fill="#111">LPS (100ng)</text>
<text x="214.9" y="245.7" font-size="7" font-weight="bold" text-anchor="middle" fill="#000">IL-6</text>
<path d="M269,248.5 A22.5,22.5 0 1 1 260.21,291.71 L261.58,288.49 A19.0,19.0 0 1 0 269,252 Z" fill="#66C64A" stroke="#111" stroke-width="0.7"/>
<path d="M260.21,291.71 A22.5,22.5 0 0 1 269,248.5 L269,252 A19.0,19.0 0 0 0 261.58,288.49 Z" fill="#7347A0" stroke="#111" stroke-width="0.7"/>
<path d="M269,271 L269,254.1 A16.9,16.9 0 0 1 270.77,287.81 Z" fill="#2A78B5" stroke="#111" stroke-width="0.65" stroke-linejoin="round"/>
<path d="M269,271 L270.77,287.81 A16.9,16.9 0 0 1 269,287.9 Z" fill="#5BC8E6" stroke="#111" stroke-width="0.65" stroke-linejoin="round"/>
<path d="M269,271 L269,287.9 A16.9,16.9 0 0 1 263.78,287.07 Z" fill="#C3C3C3" stroke="#111" stroke-width="0.65" stroke-linejoin="round"/>
<path d="M269,271 L263.78,287.07 A16.9,16.9 0 0 1 259.07,284.67 Z" fill="#F5EB50" stroke="#111" stroke-width="0.65" stroke-linejoin="round"/>
<path d="M269,271 L259.07,284.67 A16.9,16.9 0 0 1 269,254.1 Z" fill="#D54E50" stroke="#111" stroke-width="0.65" stroke-linejoin="round"/>
<polygon points="262.64,281.27 263.23,282.67 264.74,282.79 263.59,283.78 263.94,285.25 262.64,284.46 261.35,285.25 261.7,283.78 260.55,282.79 262.06,282.67" fill="#111"/>
<polygon points="259.51,287.22 260.15,288.75 261.79,288.88 260.54,289.96 260.92,291.56 259.51,290.7 258.1,291.56 258.48,289.96 257.23,288.88 258.88,288.75" fill="#EFD84A"/>
<text x="269" y="235.8" font-size="7" text-anchor="middle" fill="#111">Pam3Cys</text>
<text x="269" y="245.7" font-size="7" font-weight="bold" text-anchor="middle" fill="#000">TNF-<tspan font-weight="normal">α</tspan></text>
<path d="M322.6,248.5 A22.5,22.5 0 1 1 319.86,293.33 L320.28,289.86 A19.0,19.0 0 1 0 322.6,252 Z" fill="#66C64A" stroke="#111" stroke-width="0.7"/>
<path d="M319.86,293.33 A22.5,22.5 0 0 1 322.6,248.5 L322.6,252 A19.0,19.0 0 0 0 320.28,289.86 Z" fill="#7347A0" stroke="#111" stroke-width="0.7"/>
<path d="M322.6,271 L322.6,254.1 A16.9,16.9 0 0 1 328.1,286.98 Z" fill="#2A78B5" stroke="#111" stroke-width="0.65" stroke-linejoin="round"/>
<path d="M322.6,271 L328.1,286.98 A16.9,16.9 0 0 1 324.95,287.74 Z" fill="#5BC8E6" stroke="#111" stroke-width="0.65" stroke-linejoin="round"/>
<path d="M322.6,271 L324.95,287.74 A16.9,16.9 0 0 1 320.83,287.81 Z" fill="#C3C3C3" stroke="#111" stroke-width="0.65" stroke-linejoin="round"/>
<path d="M322.6,271 L320.83,287.81 A16.9,16.9 0 0 1 316.82,286.88 Z" fill="#F5EB50" stroke="#111" stroke-width="0.65" stroke-linejoin="round"/>
<path d="M322.6,271 L316.82,286.88 A16.9,16.9 0 0 1 322.6,254.1 Z" fill="#D54E50" stroke="#111" stroke-width="0.65" stroke-linejoin="round"/>
<polygon points="319.45,282.44 320.03,283.84 321.54,283.96 320.39,284.95 320.74,286.42 319.45,285.63 318.16,286.42 318.51,284.95 317.36,283.96 318.87,283.84" fill="#111"/>
<polygon points="317.9,288.96 318.53,290.49 320.18,290.62 318.93,291.7 319.31,293.31 317.9,292.44 316.49,293.31 316.87,291.7 315.62,290.62 317.26,290.49" fill="#EFD84A"/>
<text x="322.6" y="235.8" font-size="7" font-style="italic" text-anchor="middle" fill="#111">M. tuberculosis</text>
<text x="322.6" y="245.7" font-size="7" font-weight="bold" text-anchor="middle" fill="#000">IL-1<tspan font-weight="normal">β</tspan></text>
<path d="M376.2,248.5 A22.5,22.5 0 1 1 354.04,267.09 L357.49,267.7 A19.0,19.0 0 1 0 376.2,252 Z" fill="#66C64A" stroke="#111" stroke-width="0.7"/>
<path d="M354.04,267.09 A22.5,22.5 0 0 1 376.2,248.5 L376.2,252 A19.0,19.0 0 0 0 357.49,267.7 Z" fill="#7347A0" stroke="#111" stroke-width="0.7"/>
<path d="M376.2,271 L376.2,254.1 A16.9,16.9 0 1 1 359.36,269.53 Z" fill="#2A78B5" stroke="#111" stroke-width="0.65" stroke-linejoin="round"/>
<path d="M376.2,271 L359.36,269.53 A16.9,16.9 0 0 1 359.73,267.2 Z" fill="#F5EB50" stroke="#111" stroke-width="0.65" stroke-linejoin="round"/>
<path d="M376.2,271 L359.73,267.2 A16.9,16.9 0 0 1 376.2,254.1 Z" fill="#D54E50" stroke="#111" stroke-width="0.65" stroke-linejoin="round"/>
<polygon points="362.37,266.61 362.95,268.01 364.46,268.13 363.31,269.12 363.67,270.59 362.37,269.8 361.08,270.59 361.43,269.12 360.28,268.13 361.79,268.01" fill="#111"/>
<polygon points="355.56,265.33 356.19,266.86 357.84,266.99 356.58,268.06 356.97,269.67 355.56,268.81 354.15,269.67 354.53,268.06 353.27,266.99 354.92,266.86" fill="#EFD84A"/>
<text x="376.2" y="235.8" font-size="7" font-style="italic" text-anchor="middle" fill="#111">R. oryzae</text>
<text x="376.2" y="245.7" font-size="7" font-weight="bold" text-anchor="middle" fill="#000">IL-1<tspan font-weight="normal">β</tspan></text>
<path d="M431.2,248.5 A22.5,22.5 0 1 1 415.57,287.19 L418,284.67 A19.0,19.0 0 1 0 431.2,252 Z" fill="#66C64A" stroke="#111" stroke-width="0.7"/>
<path d="M415.57,287.19 A22.5,22.5 0 0 1 431.2,248.5 L431.2,252 A19.0,19.0 0 0 0 418,284.67 Z" fill="#7347A0" stroke="#111" stroke-width="0.7"/>
<path d="M431.2,271 L431.2,254.1 A16.9,16.9 0 1 1 419.89,283.56 Z" fill="#2A78B5" stroke="#111" stroke-width="0.65" stroke-linejoin="round"/>
<path d="M431.2,271 L419.89,283.56 A16.9,16.9 0 0 1 417.53,280.93 Z" fill="#F5EB50" stroke="#111" stroke-width="0.65" stroke-linejoin="round"/>
<path d="M431.2,271 L417.53,280.93 A16.9,16.9 0 0 1 431.2,254.1 Z" fill="#D54E50" stroke="#111" stroke-width="0.65" stroke-linejoin="round"/>
<polygon points="420.8,278.17 421.38,279.57 422.89,279.69 421.74,280.67 422.09,282.15 420.8,281.36 419.5,282.15 419.85,280.67 418.7,279.69 420.21,279.57" fill="#111"/>
<polygon points="415.67,282.58 416.3,284.11 417.95,284.24 416.7,285.32 417.08,286.93 415.67,286.06 414.26,286.93 414.64,285.32 413.39,284.24 415.03,284.11" fill="#EFD84A"/>
<text x="431.2" y="235.8" font-size="7" font-style="italic" text-anchor="middle" fill="#111">C. albicans yeast</text>
<text x="431.2" y="245.7" font-size="7" font-weight="bold" text-anchor="middle" fill="#000">IL-1<tspan font-weight="normal">β</tspan></text>
<rect x="23.4" y="167" width="153.3" height="139.9" rx="13" fill="none" stroke="#BBBBBB" stroke-width="0.9"/>
<text x="95.7" y="177.3" font-size="9" font-weight="bold" text-anchor="middle">legend</text>
<text x="30" y="186.8" font-size="7.5" font-weight="bold">Inner circle</text>
<text x="108.5" y="186.8" font-size="7.5" font-weight="bold">Outer circle</text>
<rect x="30.4" y="190.3" width="15.3" height="14.5" fill="#5BC8E6" stroke="#222" stroke-width="0.5"/>
<text x="50.3" y="200.3" font-size="7.5" fill="#111">age</text>
<rect x="30.4" y="204.8" width="15.3" height="14.5" fill="#C3C3C3" stroke="#222" stroke-width="0.5"/>
<text x="50.3" y="214.8" font-size="7.5" fill="#111">BMI</text>
<rect x="30.4" y="219.3" width="15.3" height="14.5" fill="#66C29A" stroke="#222" stroke-width="0.5"/>
<text x="50.3" y="229.3" font-size="7.5" fill="#111">sex</text>
<rect x="30.4" y="233.8" width="15.3" height="14.5" fill="#2A78B5" stroke="#222" stroke-width="0.5"/>
<text x="50.3" y="243.8" font-size="7.5" fill="#111">otherInterIndiv</text>
<rect x="30.4" y="255.1" width="15.3" height="14.6" fill="#F5EB50" stroke="#222" stroke-width="0.5"/>
<text x="50.3" y="265.1" font-size="7.5" fill="#111">seasonal</text>
<rect x="30.4" y="269.7" width="15.3" height="14.6" fill="#D54E50" stroke="#222" stroke-width="0.5"/>
<text x="50.3" y="279.7" font-size="7.5" fill="#111">otherIntraIndiv</text>
<path d="M100.8,190.6 Q105.5,190.6 105.5,195 L105.5,244 Q105.5,248.4 100.8,248.4" fill="none" stroke="#111" stroke-width="1.05"/>
<path d="M100.8,255.6 Q105.5,255.6 105.5,260 L105.5,280.5 Q105.5,285 100.8,285" fill="none" stroke="#111" stroke-width="1.05"/>
<rect x="107.9" y="211.9" width="15.6" height="15.1" fill="#66C64A" stroke="#222" stroke-width="0.5"/>
<rect x="107.4" y="262.6" width="15.6" height="15.3" fill="#7347A0" stroke="#222" stroke-width="0.5"/>
<text x="127.6" y="221.5" font-size="7.5" fill="#111">totalInterIndiv</text>
<text x="127.2" y="272.6" font-size="7.5" fill="#111">totalIntraIndiv</text>
<polygon points="36.7,288.2 37.26,289.54 38.7,289.65 37.6,290.59 37.93,292 36.7,291.25 35.47,292 35.8,290.59 34.7,289.65 36.14,289.54" fill="#111"/>
<text x="50.3" y="292.8" font-size="7.3" fill="#111">significant</text>
<polygon points="36.7,295.8 37.26,297.14 38.7,297.25 37.6,298.19 37.93,299.6 36.7,298.84 35.47,299.6 35.8,298.19 34.7,297.25 36.14,297.14" fill="#111"/>
<polygon points="42.6,295.8 43.16,297.14 44.6,297.25 43.5,298.19 43.83,299.6 42.6,298.84 41.37,299.6 41.7,298.19 40.6,297.25 42.04,297.14" fill="#F2E03A"/>
<text x="50.3" y="300.2" font-size="7.3" fill="#111">significant season</text>
<text x="0.8" y="322.9" font-size="14.5">B</text>
<text x="120.5" y="323.2" font-size="9.5" text-anchor="middle" fill="#111">Influenza PBMC 24h TNF-<tspan font-family="Liberation Serif">α</tspan></text>
<circle cx="115.6" cy="347.4" r="1.75" fill="#5587CC" stroke="#1A2036" stroke-width="0.8"/>
<circle cx="105.9" cy="368.2" r="1.75" fill="#5587CC" stroke="#1A2036" stroke-width="0.8"/>
<circle cx="115.6" cy="370.8" r="1.75" fill="#5587CC" stroke="#1A2036" stroke-width="0.8"/>
<circle cx="73.9" cy="375.1" r="1.75" fill="#5587CC" stroke="#1A2036" stroke-width="0.8"/>
<circle cx="105.9" cy="380.7" r="1.75" fill="#5587CC" stroke="#1A2036" stroke-width="0.8"/>
<circle cx="112.1" cy="382.4" r="1.75" fill="#5587CC" stroke="#1A2036" stroke-width="0.8"/>
<circle cx="64.4" cy="384.3" r="1.75" fill="#5587CC" stroke="#1A2036" stroke-width="0.8"/>
<circle cx="86.7" cy="385.3" r="1.75" fill="#5587CC" stroke="#1A2036" stroke-width="0.8"/>
<circle cx="51.6" cy="387.4" r="1.75" fill="#5587CC" stroke="#1A2036" stroke-width="0.8"/>
<circle cx="96.4" cy="389.3" r="1.75" fill="#5587CC" stroke="#1A2036" stroke-width="0.8"/>
<circle cx="105.9" cy="390.7" r="1.75" fill="#5587CC" stroke="#1A2036" stroke-width="0.8"/>
<circle cx="55" cy="392.4" r="1.75" fill="#5587CC" stroke="#1A2036" stroke-width="0.8"/>
<circle cx="112.1" cy="392.8" r="1.75" fill="#5587CC" stroke="#1A2036" stroke-width="0.8"/>
<circle cx="120.6" cy="388.8" r="1.75" fill="#5587CC" stroke="#1A2036" stroke-width="0.8"/>
<circle cx="41.9" cy="395.4" r="1.75" fill="#5587CC" stroke="#1A2036" stroke-width="0.8"/>
<circle cx="83.6" cy="395.4" r="1.75" fill="#5587CC" stroke="#1A2036" stroke-width="0.8"/>
<circle cx="90" cy="394.3" r="1.75" fill="#5587CC" stroke="#1A2036" stroke-width="0.8"/>
<circle cx="93.1" cy="396.8" r="1.75" fill="#5587CC" stroke="#1A2036" stroke-width="0.8"/>
<circle cx="105.9" cy="398" r="1.75" fill="#5587CC" stroke="#1A2036" stroke-width="0.8"/>
<circle cx="109" cy="397.1" r="1.75" fill="#5587CC" stroke="#1A2036" stroke-width="0.8"/>
<circle cx="115.6" cy="398" r="1.75" fill="#5587CC" stroke="#1A2036" stroke-width="0.8"/>
<circle cx="54.5" cy="398.8" r="1.75" fill="#5587CC" stroke="#1A2036" stroke-width="0.8"/>
<circle cx="41.9" cy="402" r="1.75" fill="#5587CC" stroke="#1A2036" stroke-width="0.8"/>
<circle cx="47.6" cy="402" r="1.75" fill="#5587CC" stroke="#1A2036" stroke-width="0.8"/>
<circle cx="51.6" cy="401" r="1.75" fill="#5587CC" stroke="#1A2036" stroke-width="0.8"/>
<circle cx="54.5" cy="402.3" r="1.75" fill="#5587CC" stroke="#1A2036" stroke-width="0.8"/>
<circle cx="54.5" cy="404.5" r="1.75" fill="#5587CC" stroke="#1A2036" stroke-width="0.8"/>
<circle cx="54.5" cy="407.1" r="1.75" fill="#5587CC" stroke="#1A2036" stroke-width="0.8"/>
<circle cx="61.1" cy="402.3" r="1.75" fill="#5587CC" stroke="#1A2036" stroke-width="0.8"/>
<circle cx="64.4" cy="402.3" r="1.75" fill="#5587CC" stroke="#1A2036" stroke-width="0.8"/>
<circle cx="67.5" cy="402.3" r="1.75" fill="#5587CC" stroke="#1A2036" stroke-width="0.8"/>
<circle cx="70.9" cy="400.2" r="1.75" fill="#5587CC" stroke="#1A2036" stroke-width="0.8"/>
<circle cx="77.3" cy="404.5" r="1.75" fill="#5587CC" stroke="#1A2036" stroke-width="0.8"/>
<circle cx="77.3" cy="407.1" r="1.75" fill="#5587CC" stroke="#1A2036" stroke-width="0.8"/>
<circle cx="61.1" cy="405.4" r="1.75" fill="#5587CC" stroke="#1A2036" stroke-width="0.8"/>
<circle cx="64.4" cy="405.4" r="1.75" fill="#5587CC" stroke="#1A2036" stroke-width="0.8"/>
<circle cx="61.1" cy="407.5" r="1.75" fill="#5587CC" stroke="#1A2036" stroke-width="0.8"/>
<circle cx="64.4" cy="408" r="1.75" fill="#5587CC" stroke="#1A2036" stroke-width="0.8"/>
<circle cx="70.9" cy="408.8" r="1.75" fill="#5587CC" stroke="#1A2036" stroke-width="0.8"/>
<circle cx="83.6" cy="402" r="1.75" fill="#5587CC" stroke="#1A2036" stroke-width="0.8"/>
<circle cx="83.6" cy="404.5" r="1.75" fill="#5587CC" stroke="#1A2036" stroke-width="0.8"/>
<circle cx="86.7" cy="400.2" r="1.75" fill="#5587CC" stroke="#1A2036" stroke-width="0.8"/>
<circle cx="90" cy="397.6" r="1.75" fill="#5587CC" stroke="#1A2036" stroke-width="0.8"/>
<circle cx="90" cy="402.8" r="1.75" fill="#5587CC" stroke="#1A2036" stroke-width="0.8"/>
<circle cx="93.1" cy="402.8" r="1.75" fill="#5587CC" stroke="#1A2036" stroke-width="0.8"/>
<circle cx="96.4" cy="402.8" r="1.75" fill="#5587CC" stroke="#1A2036" stroke-width="0.8"/>
<circle cx="86.7" cy="405.4" r="1.75" fill="#5587CC" stroke="#1A2036" stroke-width="0.8"/>
<circle cx="90" cy="408" r="1.75" fill="#5587CC" stroke="#1A2036" stroke-width="0.8"/>
<circle cx="93.1" cy="408" r="1.75" fill="#5587CC" stroke="#1A2036" stroke-width="0.8"/>
<circle cx="105.9" cy="402.8" r="1.75" fill="#5587CC" stroke="#1A2036" stroke-width="0.8"/>
<circle cx="109" cy="402.8" r="1.75" fill="#5587CC" stroke="#1A2036" stroke-width="0.8"/>
<circle cx="112.1" cy="403.7" r="1.75" fill="#5587CC" stroke="#1A2036" stroke-width="0.8"/>
<circle cx="118.5" cy="398.5" r="1.75" fill="#5587CC" stroke="#1A2036" stroke-width="0.8"/>
<circle cx="105.9" cy="405.4" r="1.75" fill="#5587CC" stroke="#1A2036" stroke-width="0.8"/>
<circle cx="73.9" cy="401.5" r="1.75" fill="#5587CC" stroke="#1A2036" stroke-width="0.8"/>
<circle cx="77.3" cy="403" r="1.75" fill="#5587CC" stroke="#1A2036" stroke-width="0.8"/>
<circle cx="57.5" cy="401" r="1.75" fill="#5587CC" stroke="#1A2036" stroke-width="0.8"/>
<circle cx="38.6" cy="407.1" r="1.75" fill="#5587CC" stroke="#1A2036" stroke-width="0.8"/>
<circle cx="41.9" cy="408" r="1.75" fill="#5587CC" stroke="#1A2036" stroke-width="0.8"/>
<circle cx="48.1" cy="413.2" r="1.75" fill="#5587CC" stroke="#1A2036" stroke-width="0.8"/>
<circle cx="64.4" cy="414.9" r="1.75" fill="#5587CC" stroke="#1A2036" stroke-width="0.8"/>
<circle cx="67.5" cy="412.3" r="1.75" fill="#5587CC" stroke="#1A2036" stroke-width="0.8"/>
<circle cx="61.1" cy="419.6" r="1.75" fill="#5587CC" stroke="#1A2036" stroke-width="0.8"/>
<circle cx="67.5" cy="420.4" r="1.75" fill="#5587CC" stroke="#1A2036" stroke-width="0.8"/>
<circle cx="83.6" cy="415.8" r="1.75" fill="#5587CC" stroke="#1A2036" stroke-width="0.8"/>
<circle cx="90" cy="416.1" r="1.75" fill="#5587CC" stroke="#1A2036" stroke-width="0.8"/>
<circle cx="64.4" cy="423.6" r="1.75" fill="#5587CC" stroke="#1A2036" stroke-width="0.8"/>
<circle cx="67.5" cy="427.5" r="1.75" fill="#5587CC" stroke="#1A2036" stroke-width="0.8"/>
<circle cx="48.1" cy="426.7" r="1.75" fill="#5587CC" stroke="#1A2036" stroke-width="0.8"/>
<circle cx="96.4" cy="422.3" r="1.75" fill="#5587CC" stroke="#1A2036" stroke-width="0.8"/>
<circle cx="96.4" cy="426.7" r="1.75" fill="#5587CC" stroke="#1A2036" stroke-width="0.8"/>
<circle cx="105.9" cy="419.6" r="1.75" fill="#5587CC" stroke="#1A2036" stroke-width="0.8"/>
<circle cx="48.1" cy="436.9" r="1.75" fill="#5587CC" stroke="#1A2036" stroke-width="0.8"/>
<circle cx="38.6" cy="440" r="1.75" fill="#5587CC" stroke="#1A2036" stroke-width="0.8"/>
<circle cx="48.1" cy="441.4" r="1.75" fill="#5587CC" stroke="#1A2036" stroke-width="0.8"/>
<circle cx="48.1" cy="447.4" r="1.75" fill="#5587CC" stroke="#1A2036" stroke-width="0.8"/>
<circle cx="73.9" cy="443.1" r="1.75" fill="#5587CC" stroke="#1A2036" stroke-width="0.8"/>
<circle cx="67.5" cy="445.7" r="1.75" fill="#5587CC" stroke="#1A2036" stroke-width="0.8"/>
<circle cx="64.4" cy="447.8" r="1.75" fill="#5587CC" stroke="#1A2036" stroke-width="0.8"/>
<circle cx="67.5" cy="452.6" r="1.75" fill="#5587CC" stroke="#1A2036" stroke-width="0.8"/>
<circle cx="96.4" cy="440" r="1.75" fill="#5587CC" stroke="#1A2036" stroke-width="0.8"/>
<circle cx="96.4" cy="443.5" r="1.75" fill="#5587CC" stroke="#1A2036" stroke-width="0.8"/>
<circle cx="105.9" cy="454.7" r="1.75" fill="#5587CC" stroke="#1A2036" stroke-width="0.8"/>
<circle cx="112.1" cy="450.9" r="1.75" fill="#5587CC" stroke="#1A2036" stroke-width="0.8"/>
<circle cx="64.4" cy="461.1" r="1.75" fill="#5587CC" stroke="#1A2036" stroke-width="0.8"/>
<circle cx="38.6" cy="464.6" r="1.75" fill="#5587CC" stroke="#1A2036" stroke-width="0.8"/>
<circle cx="144.5" cy="351.5" r="1.75" fill="#5587CC" stroke="#1A2036" stroke-width="0.8"/>
<circle cx="144.5" cy="354.4" r="1.75" fill="#5587CC" stroke="#1A2036" stroke-width="0.8"/>
<circle cx="137.8" cy="356.7" r="1.75" fill="#5587CC" stroke="#1A2036" stroke-width="0.8"/>
<circle cx="163.6" cy="352.7" r="1.75" fill="#5587CC" stroke="#1A2036" stroke-width="0.8"/>
<circle cx="163.6" cy="366.9" r="1.75" fill="#5587CC" stroke="#1A2036" stroke-width="0.8"/>
<circle cx="169.9" cy="365.6" r="1.75" fill="#5587CC" stroke="#1A2036" stroke-width="0.8"/>
<circle cx="141.1" cy="368.8" r="1.75" fill="#5587CC" stroke="#1A2036" stroke-width="0.8"/>
<circle cx="141.1" cy="372.7" r="1.75" fill="#5587CC" stroke="#1A2036" stroke-width="0.8"/>
<circle cx="144.5" cy="375" r="1.75" fill="#5587CC" stroke="#1A2036" stroke-width="0.8"/>
<circle cx="179.2" cy="377.7" r="1.75" fill="#5587CC" stroke="#1A2036" stroke-width="0.8"/>
<circle cx="195.5" cy="376.5" r="1.75" fill="#5587CC" stroke="#1A2036" stroke-width="0.8"/>
<circle cx="131.5" cy="382.7" r="1.75" fill="#5587CC" stroke="#1A2036" stroke-width="0.8"/>
<circle cx="121.8" cy="388.5" r="1.75" fill="#5587CC" stroke="#1A2036" stroke-width="0.8"/>
<circle cx="144.5" cy="384.6" r="1.75" fill="#5587CC" stroke="#1A2036" stroke-width="0.8"/>
<circle cx="151.1" cy="383.8" r="1.75" fill="#5587CC" stroke="#1A2036" stroke-width="0.8"/>
<circle cx="179.2" cy="382.7" r="1.75" fill="#5587CC" stroke="#1A2036" stroke-width="0.8"/>
<circle cx="179.2" cy="385.6" r="1.75" fill="#5587CC" stroke="#1A2036" stroke-width="0.8"/>
<circle cx="144.5" cy="388.1" r="1.75" fill="#5587CC" stroke="#1A2036" stroke-width="0.8"/>
<circle cx="205.1" cy="388.5" r="1.75" fill="#5587CC" stroke="#1A2036" stroke-width="0.8"/>
<circle cx="201.8" cy="391" r="1.75" fill="#5587CC" stroke="#1A2036" stroke-width="0.8"/>
<circle cx="137.8" cy="391.8" r="1.75" fill="#5587CC" stroke="#1A2036" stroke-width="0.8"/>
<circle cx="141.1" cy="390.4" r="1.75" fill="#5587CC" stroke="#1A2036" stroke-width="0.8"/>
<circle cx="147.8" cy="391.8" r="1.75" fill="#5587CC" stroke="#1A2036" stroke-width="0.8"/>
<circle cx="154" cy="390.4" r="1.75" fill="#5587CC" stroke="#1A2036" stroke-width="0.8"/>
<circle cx="160.3" cy="391.8" r="1.75" fill="#5587CC" stroke="#1A2036" stroke-width="0.8"/>
<circle cx="163.6" cy="391.5" r="1.75" fill="#5587CC" stroke="#1A2036" stroke-width="0.8"/>
<circle cx="167" cy="391.8" r="1.75" fill="#5587CC" stroke="#1A2036" stroke-width="0.8"/>
<circle cx="121.8" cy="397.7" r="1.75" fill="#5587CC" stroke="#1A2036" stroke-width="0.8"/>
<circle cx="131.5" cy="401.5" r="1.75" fill="#5587CC" stroke="#1A2036" stroke-width="0.8"/>
<circle cx="134.7" cy="401.5" r="1.75" fill="#5587CC" stroke="#1A2036" stroke-width="0.8"/>
<circle cx="141.1" cy="402.5" r="1.75" fill="#5587CC" stroke="#1A2036" stroke-width="0.8"/>
<circle cx="150.7" cy="397.7" r="1.75" fill="#5587CC" stroke="#1A2036" stroke-width="0.8"/>
<circle cx="154" cy="399.6" r="1.75" fill="#5587CC" stroke="#1A2036" stroke-width="0.8"/>
<circle cx="157.4" cy="401.5" r="1.75" fill="#5587CC" stroke="#1A2036" stroke-width="0.8"/>
<circle cx="163.6" cy="396.7" r="1.75" fill="#5587CC" stroke="#1A2036" stroke-width="0.8"/>
<circle cx="169.9" cy="395.8" r="1.75" fill="#5587CC" stroke="#1A2036" stroke-width="0.8"/>
<circle cx="176.7" cy="396.3" r="1.75" fill="#5587CC" stroke="#1A2036" stroke-width="0.8"/>
<circle cx="179.5" cy="396.3" r="1.75" fill="#5587CC" stroke="#1A2036" stroke-width="0.8"/>
<circle cx="169.9" cy="401.5" r="1.75" fill="#5587CC" stroke="#1A2036" stroke-width="0.8"/>
<circle cx="176.7" cy="401.5" r="1.75" fill="#5587CC" stroke="#1A2036" stroke-width="0.8"/>
<circle cx="192" cy="398.7" r="1.75" fill="#5587CC" stroke="#1A2036" stroke-width="0.8"/>
<circle cx="198.8" cy="398.7" r="1.75" fill="#5587CC" stroke="#1A2036" stroke-width="0.8"/>
<circle cx="201.8" cy="399.6" r="1.75" fill="#5587CC" stroke="#1A2036" stroke-width="0.8"/>
<circle cx="205.1" cy="397.7" r="1.75" fill="#5587CC" stroke="#1A2036" stroke-width="0.8"/>
<circle cx="208.4" cy="401.5" r="1.75" fill="#5587CC" stroke="#1A2036" stroke-width="0.8"/>
<circle cx="192.4" cy="401.5" r="1.75" fill="#5587CC" stroke="#1A2036" stroke-width="0.8"/>
<circle cx="121.8" cy="403.7" r="1.75" fill="#5587CC" stroke="#1A2036" stroke-width="0.8"/>
<circle cx="125.3" cy="410.4" r="1.75" fill="#5587CC" stroke="#1A2036" stroke-width="0.8"/>
<circle cx="131.5" cy="403.7" r="1.75" fill="#5587CC" stroke="#1A2036" stroke-width="0.8"/>
<circle cx="134.7" cy="405.6" r="1.75" fill="#5587CC" stroke="#1A2036" stroke-width="0.8"/>
<circle cx="141.1" cy="403.1" r="1.75" fill="#5587CC" stroke="#1A2036" stroke-width="0.8"/>
<circle cx="147.8" cy="405" r="1.75" fill="#5587CC" stroke="#1A2036" stroke-width="0.8"/>
<circle cx="147.8" cy="408.5" r="1.75" fill="#5587CC" stroke="#1A2036" stroke-width="0.8"/>
<circle cx="151.1" cy="397.9" r="1.75" fill="#5587CC" stroke="#1A2036" stroke-width="0.8"/>
<circle cx="154" cy="397.9" r="1.75" fill="#5587CC" stroke="#1A2036" stroke-width="0.8"/>
<circle cx="157.4" cy="400.8" r="1.75" fill="#5587CC" stroke="#1A2036" stroke-width="0.8"/>
<circle cx="151.1" cy="403.7" r="1.75" fill="#5587CC" stroke="#1A2036" stroke-width="0.8"/>
<circle cx="154" cy="404.6" r="1.75" fill="#5587CC" stroke="#1A2036" stroke-width="0.8"/>
<circle cx="163.6" cy="399.8" r="1.75" fill="#5587CC" stroke="#1A2036" stroke-width="0.8"/>
<circle cx="169.9" cy="396" r="1.75" fill="#5587CC" stroke="#1A2036" stroke-width="0.8"/>
<circle cx="173.8" cy="401.7" r="1.75" fill="#5587CC" stroke="#1A2036" stroke-width="0.8"/>
<circle cx="181.1" cy="408.8" r="1.75" fill="#5587CC" stroke="#1A2036" stroke-width="0.8"/>
<circle cx="176.7" cy="405.6" r="1.75" fill="#5587CC" stroke="#1A2036" stroke-width="0.8"/>
<circle cx="176.7" cy="412.7" r="1.75" fill="#5587CC" stroke="#1A2036" stroke-width="0.8"/>
<circle cx="179.5" cy="420" r="1.75" fill="#5587CC" stroke="#1A2036" stroke-width="0.8"/>
<circle cx="189.2" cy="412.3" r="1.75" fill="#5587CC" stroke="#1A2036" stroke-width="0.8"/>
<circle cx="189.2" cy="414.8" r="1.75" fill="#5587CC" stroke="#1A2036" stroke-width="0.8"/>
<circle cx="189.2" cy="423.8" r="1.75" fill="#5587CC" stroke="#1A2036" stroke-width="0.8"/>
<circle cx="201.8" cy="399.8" r="1.75" fill="#5587CC" stroke="#1A2036" stroke-width="0.8"/>
<circle cx="205.1" cy="398.8" r="1.75" fill="#5587CC" stroke="#1A2036" stroke-width="0.8"/>
<circle cx="192.4" cy="402.7" r="1.75" fill="#5587CC" stroke="#1A2036" stroke-width="0.8"/>
<circle cx="198.8" cy="401.7" r="1.75" fill="#5587CC" stroke="#1A2036" stroke-width="0.8"/>
<circle cx="205.1" cy="402.3" r="1.75" fill="#5587CC" stroke="#1A2036" stroke-width="0.8"/>
<circle cx="208.4" cy="402.7" r="1.75" fill="#5587CC" stroke="#1A2036" stroke-width="0.8"/>
<circle cx="198.8" cy="411.9" r="1.75" fill="#5587CC" stroke="#1A2036" stroke-width="0.8"/>
<circle cx="205.1" cy="408.8" r="1.75" fill="#5587CC" stroke="#1A2036" stroke-width="0.8"/>
<circle cx="208.4" cy="420" r="1.75" fill="#5587CC" stroke="#1A2036" stroke-width="0.8"/>
<circle cx="198.8" cy="424.8" r="1.75" fill="#5587CC" stroke="#1A2036" stroke-width="0.8"/>
<circle cx="198.8" cy="429.2" r="1.75" fill="#5587CC" stroke="#1A2036" stroke-width="0.8"/>
<circle cx="208.4" cy="430.2" r="1.75" fill="#5587CC" stroke="#1A2036" stroke-width="0.8"/>
<circle cx="157.4" cy="429.2" r="1.75" fill="#5587CC" stroke="#1A2036" stroke-width="0.8"/>
<circle cx="125.3" cy="438.3" r="1.75" fill="#5587CC" stroke="#1A2036" stroke-width="0.8"/>
<circle cx="128.6" cy="438.3" r="1.75" fill="#5587CC" stroke="#1A2036" stroke-width="0.8"/>
<circle cx="125.3" cy="439.5" r="1.75" fill="#5587CC" stroke="#1A2036" stroke-width="0.8"/>
<circle cx="128.6" cy="446.5" r="1.75" fill="#5587CC" stroke="#1A2036" stroke-width="0.8"/>
<circle cx="125.3" cy="448.8" r="1.75" fill="#5587CC" stroke="#1A2036" stroke-width="0.8"/>
<circle cx="157.4" cy="453.1" r="1.75" fill="#5587CC" stroke="#1A2036" stroke-width="0.8"/>
<circle cx="157.4" cy="463.8" r="1.75" fill="#5587CC" stroke="#1A2036" stroke-width="0.8"/>
<circle cx="189.2" cy="447.3" r="1.75" fill="#5587CC" stroke="#1A2036" stroke-width="0.8"/>
<circle cx="189.2" cy="451.7" r="1.75" fill="#5587CC" stroke="#1A2036" stroke-width="0.8"/>
<circle cx="208.4" cy="461.3" r="1.75" fill="#5587CC" stroke="#1A2036" stroke-width="0.8"/>
<line x1="38.6" y1="402.5" x2="208.4" y2="402.5" stroke="#8a8a8a" stroke-width="0.8" stroke-opacity="0.8"/>
<polygon points="38.6,407.9 40.75,407.86 42.9,407.81 45.05,407.74 47.2,407.65 49.35,407.54 51.5,407.4 53.65,407.26 55.79,407.09 57.94,406.91 60.09,406.72 62.24,406.5 64.39,406.27 66.54,406.03 68.69,405.79 70.84,405.55 72.99,405.31 75.14,405.04 77.29,404.74 79.44,404.4 81.59,404.02 83.74,403.62 85.89,403.2 88.04,402.78 90.18,402.36 92.33,401.93 94.48,401.51 96.63,401.11 98.78,400.71 100.93,400.34 103.08,399.99 105.23,399.66 107.38,399.34 109.53,399.03 111.68,398.72 113.83,398.42 115.98,398.11 118.13,397.8 120.28,397.47 122.43,397.13 124.57,396.77 126.72,396.38 128.87,395.98 131.02,395.6 133.17,395.22 135.32,394.88 137.47,394.58 139.62,394.34 141.77,394.13 143.92,393.93 146.07,393.74 148.22,393.57 150.37,393.44 152.52,393.34 154.67,393.3 156.82,393.31 158.96,393.36 161.11,393.45 163.26,393.55 165.41,393.68 167.56,393.83 169.71,393.98 171.86,394.17 174.01,394.43 176.16,394.75 178.31,395.12 180.46,395.54 182.61,395.98 184.76,396.45 186.91,396.94 189.06,397.51 191.21,398.13 193.35,398.82 195.5,399.56 197.65,400.37 199.8,401.25 201.95,402.25 204.1,403.35 206.25,404.54 208.4,405.8 208.4,422.8 206.25,420.65 204.1,418.6 201.95,416.67 199.8,414.88 197.65,413.25 195.5,411.69 193.35,410.19 191.21,408.78 189.06,407.49 186.91,406.35 184.76,405.4 182.61,404.54 180.46,403.73 178.31,402.97 176.16,402.3 174.01,401.73 171.86,401.28 169.71,400.97 167.56,400.72 165.41,400.49 163.26,400.29 161.11,400.13 158.96,400 156.82,399.92 154.67,399.9 152.52,399.94 150.37,400.04 148.22,400.17 146.07,400.34 143.92,400.53 141.77,400.73 139.62,400.94 137.47,401.18 135.32,401.48 133.17,401.82 131.02,402.2 128.87,402.58 126.72,402.98 124.57,403.37 122.43,403.73 120.28,404.07 118.13,404.41 115.98,404.75 113.83,405.08 111.68,405.43 109.53,405.78 107.38,406.14 105.23,406.51 103.08,406.9 100.93,407.31 98.78,407.75 96.63,408.23 94.48,408.74 92.33,409.28 90.18,409.85 88.04,410.43 85.89,411.03 83.74,411.64 81.59,412.25 79.44,412.86 77.29,413.5 75.14,414.18 72.99,414.9 70.84,415.64 68.69,416.42 66.54,417.21 64.39,418.04 62.24,418.91 60.09,419.84 57.94,420.8 55.79,421.8 53.65,422.8 51.5,423.81 49.35,424.8 47.2,425.8 45.05,426.81 42.9,427.83 40.75,428.86 38.6,429.9" fill="#BEBEBE" fill-opacity="0.55"/>
<polyline points="38.6,418.9 40.75,418.36 42.9,417.82 45.05,417.28 47.2,416.72 49.35,416.17 51.5,415.61 53.65,415.03 55.79,414.44 57.94,413.86 60.09,413.28 62.24,412.71 64.39,412.15 66.54,411.62 68.69,411.1 70.84,410.6 72.99,410.1 75.14,409.61 77.29,409.12 79.44,408.63 81.59,408.13 83.74,407.63 85.89,407.12 88.04,406.61 90.18,406.1 92.33,405.61 94.48,405.13 96.63,404.67 98.78,404.23 100.93,403.83 103.08,403.45 105.23,403.08 107.38,402.74 109.53,402.4 111.68,402.07 113.83,401.75 115.98,401.43 118.13,401.1 120.28,400.77 122.43,400.43 124.57,400.07 126.72,399.68 128.87,399.28 131.02,398.9 133.17,398.52 135.32,398.18 137.47,397.88 139.62,397.64 141.77,397.43 143.92,397.23 146.07,397.04 148.22,396.87 150.37,396.74 152.52,396.64 154.67,396.6 156.82,396.62 158.96,396.68 161.11,396.79 163.26,396.92 165.41,397.09 167.56,397.27 169.71,397.47 171.86,397.72 174.01,398.08 176.16,398.52 178.31,399.05 180.46,399.63 182.61,400.26 184.76,400.92 186.91,401.65 189.06,402.5 191.21,403.46 193.35,404.51 195.5,405.63 197.65,406.81 199.8,408.06 201.95,409.46 204.1,410.98 206.25,412.6 208.4,414.3" fill="none" stroke="#EE6B7B" stroke-width="1.3" stroke-opacity="0.95"/>
<path d="M30.2,326.1 L30.2,477.8 L217.5,477.8" fill="none" stroke="#111" stroke-width="1.25"/>
<text x="27.2" y="359.9" font-size="9.8" text-anchor="end" fill="#111">2</text>
<text x="27.2" y="405.9" font-size="9.8" text-anchor="end" fill="#111">0</text>
<text x="27.2" y="451.9" font-size="9.8" text-anchor="end" fill="#111">-2</text>
<line x1="59.5" y1="477.8" x2="59.5" y2="479.6" stroke="#555" stroke-width="0.6"/>
<text transform="translate(65.1,485.2) rotate(-45)" font-size="9.4" text-anchor="end" fill="#111">Apr 2016</text>
<line x1="101.5" y1="477.8" x2="101.5" y2="479.6" stroke="#555" stroke-width="0.6"/>
<text transform="translate(107.1,485.2) rotate(-45)" font-size="9.4" text-anchor="end" fill="#111">Jul 2016</text>
<line x1="143.4" y1="477.8" x2="143.4" y2="479.6" stroke="#555" stroke-width="0.6"/>
<text transform="translate(149,485.2) rotate(-45)" font-size="9.4" text-anchor="end" fill="#111">Oct 2016</text>
<line x1="185.4" y1="477.8" x2="185.4" y2="479.6" stroke="#555" stroke-width="0.6"/>
<text transform="translate(191,485.2) rotate(-45)" font-size="9.4" text-anchor="end" fill="#111">Jan 2017</text>
<text x="123.8" y="520.3" font-size="9.4" text-anchor="middle" fill="#111">date</text>
<text transform="translate(17.3,402) rotate(-90)" font-size="9.5" text-anchor="middle" fill="#111">Normalized difference from median</text>
<text x="250.8" y="323.3" font-size="14.5">C</text>
<text x="380.8" y="324.5" font-size="9.5" text-anchor="middle" fill="#111">E. coli PBMC 24h IL-1<tspan font-family="Liberation Serif">β</tspan></text>
<circle cx="311.9" cy="367.7" r="1.75" fill="#5587CC" stroke="#1A2036" stroke-width="0.8"/>
<circle cx="314.8" cy="375.5" r="1.75" fill="#5587CC" stroke="#1A2036" stroke-width="0.8"/>
<circle cx="314.8" cy="379.8" r="1.75" fill="#5587CC" stroke="#1A2036" stroke-width="0.8"/>
<circle cx="330.9" cy="378.9" r="1.75" fill="#5587CC" stroke="#1A2036" stroke-width="0.8"/>
<circle cx="334.1" cy="380.2" r="1.75" fill="#5587CC" stroke="#1A2036" stroke-width="0.8"/>
<circle cx="334.1" cy="387.2" r="1.75" fill="#5587CC" stroke="#1A2036" stroke-width="0.8"/>
<circle cx="324.5" cy="389" r="1.75" fill="#5587CC" stroke="#1A2036" stroke-width="0.8"/>
<circle cx="308.6" cy="394.5" r="1.75" fill="#5587CC" stroke="#1A2036" stroke-width="0.8"/>
<circle cx="314.8" cy="393.3" r="1.75" fill="#5587CC" stroke="#1A2036" stroke-width="0.8"/>
<circle cx="321.4" cy="393.7" r="1.75" fill="#5587CC" stroke="#1A2036" stroke-width="0.8"/>
<circle cx="330.9" cy="392.8" r="1.75" fill="#5587CC" stroke="#1A2036" stroke-width="0.8"/>
<circle cx="343.6" cy="391.4" r="1.75" fill="#5587CC" stroke="#1A2036" stroke-width="0.8"/>
<circle cx="343.6" cy="396.2" r="1.75" fill="#5587CC" stroke="#1A2036" stroke-width="0.8"/>
<circle cx="327.8" cy="395.9" r="1.75" fill="#5587CC" stroke="#1A2036" stroke-width="0.8"/>
<circle cx="327.8" cy="398.8" r="1.75" fill="#5587CC" stroke="#1A2036" stroke-width="0.8"/>
<circle cx="334.1" cy="398.3" r="1.75" fill="#5587CC" stroke="#1A2036" stroke-width="0.8"/>
<circle cx="302" cy="398" r="1.75" fill="#5587CC" stroke="#1A2036" stroke-width="0.8"/>
<circle cx="302" cy="400.6" r="1.75" fill="#5587CC" stroke="#1A2036" stroke-width="0.8"/>
<circle cx="308.6" cy="400.6" r="1.75" fill="#5587CC" stroke="#1A2036" stroke-width="0.8"/>
<circle cx="314.8" cy="398.8" r="1.75" fill="#5587CC" stroke="#1A2036" stroke-width="0.8"/>
<circle cx="321.4" cy="398.8" r="1.75" fill="#5587CC" stroke="#1A2036" stroke-width="0.8"/>
<circle cx="365.9" cy="396.2" r="1.75" fill="#5587CC" stroke="#1A2036" stroke-width="0.8"/>
<circle cx="369.4" cy="397.6" r="1.75" fill="#5587CC" stroke="#1A2036" stroke-width="0.8"/>
<circle cx="378.9" cy="396.2" r="1.75" fill="#5587CC" stroke="#1A2036" stroke-width="0.8"/>
<circle cx="382" cy="393.7" r="1.75" fill="#5587CC" stroke="#1A2036" stroke-width="0.8"/>
<circle cx="298.6" cy="403.7" r="1.75" fill="#5587CC" stroke="#1A2036" stroke-width="0.8"/>
<circle cx="347" cy="401.4" r="1.75" fill="#5587CC" stroke="#1A2036" stroke-width="0.8"/>
<circle cx="350" cy="403.7" r="1.75" fill="#5587CC" stroke="#1A2036" stroke-width="0.8"/>
<circle cx="353.4" cy="403.7" r="1.75" fill="#5587CC" stroke="#1A2036" stroke-width="0.8"/>
<circle cx="356.4" cy="404.4" r="1.75" fill="#5587CC" stroke="#1A2036" stroke-width="0.8"/>
<circle cx="369.4" cy="402.3" r="1.75" fill="#5587CC" stroke="#1A2036" stroke-width="0.8"/>
<circle cx="298.6" cy="407.5" r="1.75" fill="#5587CC" stroke="#1A2036" stroke-width="0.8"/>
<circle cx="308.6" cy="402.3" r="1.75" fill="#5587CC" stroke="#1A2036" stroke-width="0.8"/>
<circle cx="308.6" cy="408.8" r="1.75" fill="#5587CC" stroke="#1A2036" stroke-width="0.8"/>
<circle cx="308.6" cy="412.8" r="1.75" fill="#5587CC" stroke="#1A2036" stroke-width="0.8"/>
<circle cx="314.8" cy="404.5" r="1.75" fill="#5587CC" stroke="#1A2036" stroke-width="0.8"/>
<circle cx="314.8" cy="410.6" r="1.75" fill="#5587CC" stroke="#1A2036" stroke-width="0.8"/>
<circle cx="321.4" cy="404.5" r="1.75" fill="#5587CC" stroke="#1A2036" stroke-width="0.8"/>
<circle cx="321.4" cy="410.2" r="1.75" fill="#5587CC" stroke="#1A2036" stroke-width="0.8"/>
<circle cx="324.5" cy="402.8" r="1.75" fill="#5587CC" stroke="#1A2036" stroke-width="0.8"/>
<circle cx="324.5" cy="408" r="1.75" fill="#5587CC" stroke="#1A2036" stroke-width="0.8"/>
<circle cx="324.5" cy="413.7" r="1.75" fill="#5587CC" stroke="#1A2036" stroke-width="0.8"/>
<circle cx="324.5" cy="418.9" r="1.75" fill="#5587CC" stroke="#1A2036" stroke-width="0.8"/>
<circle cx="327.8" cy="396.7" r="1.75" fill="#5587CC" stroke="#1A2036" stroke-width="0.8"/>
<circle cx="327.8" cy="402.8" r="1.75" fill="#5587CC" stroke="#1A2036" stroke-width="0.8"/>
<circle cx="327.8" cy="409.7" r="1.75" fill="#5587CC" stroke="#1A2036" stroke-width="0.8"/>
<circle cx="327.8" cy="415.4" r="1.75" fill="#5587CC" stroke="#1A2036" stroke-width="0.8"/>
<circle cx="334.1" cy="398.1" r="1.75" fill="#5587CC" stroke="#1A2036" stroke-width="0.8"/>
<circle cx="337.3" cy="408.8" r="1.75" fill="#5587CC" stroke="#1A2036" stroke-width="0.8"/>
<circle cx="337.3" cy="421" r="1.75" fill="#5587CC" stroke="#1A2036" stroke-width="0.8"/>
<circle cx="343.6" cy="408.5" r="1.75" fill="#5587CC" stroke="#1A2036" stroke-width="0.8"/>
<circle cx="343.6" cy="413.2" r="1.75" fill="#5587CC" stroke="#1A2036" stroke-width="0.8"/>
<circle cx="347" cy="404.5" r="1.75" fill="#5587CC" stroke="#1A2036" stroke-width="0.8"/>
<circle cx="347" cy="419.2" r="1.75" fill="#5587CC" stroke="#1A2036" stroke-width="0.8"/>
<circle cx="347" cy="424.1" r="1.75" fill="#5587CC" stroke="#1A2036" stroke-width="0.8"/>
<circle cx="350" cy="406.2" r="1.75" fill="#5587CC" stroke="#1A2036" stroke-width="0.8"/>
<circle cx="350" cy="417.2" r="1.75" fill="#5587CC" stroke="#1A2036" stroke-width="0.8"/>
<circle cx="350" cy="427.9" r="1.75" fill="#5587CC" stroke="#1A2036" stroke-width="0.8"/>
<circle cx="353.4" cy="408" r="1.75" fill="#5587CC" stroke="#1A2036" stroke-width="0.8"/>
<circle cx="353.4" cy="421.8" r="1.75" fill="#5587CC" stroke="#1A2036" stroke-width="0.8"/>
<circle cx="353.4" cy="424.1" r="1.75" fill="#5587CC" stroke="#1A2036" stroke-width="0.8"/>
<circle cx="353.4" cy="428.2" r="1.75" fill="#5587CC" stroke="#1A2036" stroke-width="0.8"/>
<circle cx="356.4" cy="408.8" r="1.75" fill="#5587CC" stroke="#1A2036" stroke-width="0.8"/>
<circle cx="356.4" cy="413.7" r="1.75" fill="#5587CC" stroke="#1A2036" stroke-width="0.8"/>
<circle cx="356.4" cy="417.5" r="1.75" fill="#5587CC" stroke="#1A2036" stroke-width="0.8"/>
<circle cx="356.4" cy="433.1" r="1.75" fill="#5587CC" stroke="#1A2036" stroke-width="0.8"/>
<circle cx="365.9" cy="407.1" r="1.75" fill="#5587CC" stroke="#1A2036" stroke-width="0.8"/>
<circle cx="365.9" cy="428.7" r="1.75" fill="#5587CC" stroke="#1A2036" stroke-width="0.8"/>
<circle cx="365.9" cy="433.9" r="1.75" fill="#5587CC" stroke="#1A2036" stroke-width="0.8"/>
<circle cx="365.9" cy="442.1" r="1.75" fill="#5587CC" stroke="#1A2036" stroke-width="0.8"/>
<circle cx="365.9" cy="455.2" r="1.75" fill="#5587CC" stroke="#1A2036" stroke-width="0.8"/>
<circle cx="365.9" cy="459.4" r="1.75" fill="#5587CC" stroke="#1A2036" stroke-width="0.8"/>
<circle cx="365.9" cy="461.6" r="1.75" fill="#5587CC" stroke="#1A2036" stroke-width="0.8"/>
<circle cx="369.4" cy="402.8" r="1.75" fill="#5587CC" stroke="#1A2036" stroke-width="0.8"/>
<circle cx="369.4" cy="408.8" r="1.75" fill="#5587CC" stroke="#1A2036" stroke-width="0.8"/>
<circle cx="372.5" cy="404.5" r="1.75" fill="#5587CC" stroke="#1A2036" stroke-width="0.8"/>
<circle cx="372.5" cy="408.5" r="1.75" fill="#5587CC" stroke="#1A2036" stroke-width="0.8"/>
<circle cx="375.9" cy="405.4" r="1.75" fill="#5587CC" stroke="#1A2036" stroke-width="0.8"/>
<circle cx="375.9" cy="408.8" r="1.75" fill="#5587CC" stroke="#1A2036" stroke-width="0.8"/>
<circle cx="375.9" cy="421.8" r="1.75" fill="#5587CC" stroke="#1A2036" stroke-width="0.8"/>
<circle cx="375.9" cy="432.2" r="1.75" fill="#5587CC" stroke="#1A2036" stroke-width="0.8"/>
<circle cx="372.5" cy="453.8" r="1.75" fill="#5587CC" stroke="#1A2036" stroke-width="0.8"/>
<circle cx="379" cy="396.4" r="1.75" fill="#5587CC" stroke="#1A2036" stroke-width="0.8"/>
<circle cx="382" cy="414" r="1.75" fill="#5587CC" stroke="#1A2036" stroke-width="0.8"/>
<circle cx="394.9" cy="365" r="1.75" fill="#5587CC" stroke="#1A2036" stroke-width="0.8"/>
<circle cx="423.6" cy="362.1" r="1.75" fill="#5587CC" stroke="#1A2036" stroke-width="0.8"/>
<circle cx="429.9" cy="357.7" r="1.75" fill="#5587CC" stroke="#1A2036" stroke-width="0.8"/>
<circle cx="449.2" cy="355" r="1.75" fill="#5587CC" stroke="#1A2036" stroke-width="0.8"/>
<circle cx="452.6" cy="363.1" r="1.75" fill="#5587CC" stroke="#1A2036" stroke-width="0.8"/>
<circle cx="439.5" cy="366.5" r="1.75" fill="#5587CC" stroke="#1A2036" stroke-width="0.8"/>
<circle cx="439.5" cy="367.9" r="1.75" fill="#5587CC" stroke="#1A2036" stroke-width="0.8"/>
<circle cx="441.1" cy="370.4" r="1.75" fill="#5587CC" stroke="#1A2036" stroke-width="0.8"/>
<circle cx="452.6" cy="370.8" r="1.75" fill="#5587CC" stroke="#1A2036" stroke-width="0.8"/>
<circle cx="449.2" cy="374.6" r="1.75" fill="#5587CC" stroke="#1A2036" stroke-width="0.8"/>
<circle cx="436.7" cy="374.6" r="1.75" fill="#5587CC" stroke="#1A2036" stroke-width="0.8"/>
<circle cx="439.5" cy="377.5" r="1.75" fill="#5587CC" stroke="#1A2036" stroke-width="0.8"/>
<circle cx="398.2" cy="382.3" r="1.75" fill="#5587CC" stroke="#1A2036" stroke-width="0.8"/>
<circle cx="398.2" cy="383.8" r="1.75" fill="#5587CC" stroke="#1A2036" stroke-width="0.8"/>
<circle cx="404.5" cy="383.3" r="1.75" fill="#5587CC" stroke="#1A2036" stroke-width="0.8"/>
<circle cx="417.4" cy="382.3" r="1.75" fill="#5587CC" stroke="#1A2036" stroke-width="0.8"/>
<circle cx="465.5" cy="381.9" r="1.75" fill="#5587CC" stroke="#1A2036" stroke-width="0.8"/>
<circle cx="411.1" cy="385.8" r="1.75" fill="#5587CC" stroke="#1A2036" stroke-width="0.8"/>
<circle cx="423.6" cy="385.8" r="1.75" fill="#5587CC" stroke="#1A2036" stroke-width="0.8"/>
<circle cx="427" cy="387.7" r="1.75" fill="#5587CC" stroke="#1A2036" stroke-width="0.8"/>
<circle cx="429.9" cy="388.5" r="1.75" fill="#5587CC" stroke="#1A2036" stroke-width="0.8"/>
<circle cx="417.4" cy="388.1" r="1.75" fill="#5587CC" stroke="#1A2036" stroke-width="0.8"/>
<circle cx="411.1" cy="390" r="1.75" fill="#5587CC" stroke="#1A2036" stroke-width="0.8"/>
<circle cx="465.5" cy="388.1" r="1.75" fill="#5587CC" stroke="#1A2036" stroke-width="0.8"/>
<circle cx="465.5" cy="391.9" r="1.75" fill="#5587CC" stroke="#1A2036" stroke-width="0.8"/>
<circle cx="382.2" cy="392.5" r="1.75" fill="#5587CC" stroke="#1A2036" stroke-width="0.8"/>
<circle cx="382.2" cy="395.8" r="1.75" fill="#5587CC" stroke="#1A2036" stroke-width="0.8"/>
<circle cx="385.3" cy="396.2" r="1.75" fill="#5587CC" stroke="#1A2036" stroke-width="0.8"/>
<circle cx="379.5" cy="396.2" r="1.75" fill="#5587CC" stroke="#1A2036" stroke-width="0.8"/>
<circle cx="398.2" cy="391" r="1.75" fill="#5587CC" stroke="#1A2036" stroke-width="0.8"/>
<circle cx="401.1" cy="391.5" r="1.75" fill="#5587CC" stroke="#1A2036" stroke-width="0.8"/>
<circle cx="404.5" cy="392.9" r="1.75" fill="#5587CC" stroke="#1A2036" stroke-width="0.8"/>
<circle cx="398.2" cy="394.8" r="1.75" fill="#5587CC" stroke="#1A2036" stroke-width="0.8"/>
<circle cx="401.1" cy="395.8" r="1.75" fill="#5587CC" stroke="#1A2036" stroke-width="0.8"/>
<circle cx="417.4" cy="391" r="1.75" fill="#5587CC" stroke="#1A2036" stroke-width="0.8"/>
<circle cx="439.5" cy="391" r="1.75" fill="#5587CC" stroke="#1A2036" stroke-width="0.8"/>
<circle cx="449.2" cy="390.4" r="1.75" fill="#5587CC" stroke="#1A2036" stroke-width="0.8"/>
<circle cx="449.2" cy="392.9" r="1.75" fill="#5587CC" stroke="#1A2036" stroke-width="0.8"/>
<circle cx="423.6" cy="396.7" r="1.75" fill="#5587CC" stroke="#1A2036" stroke-width="0.8"/>
<circle cx="429.9" cy="397.3" r="1.75" fill="#5587CC" stroke="#1A2036" stroke-width="0.8"/>
<circle cx="439.5" cy="396.7" r="1.75" fill="#5587CC" stroke="#1A2036" stroke-width="0.8"/>
<circle cx="449.2" cy="395.8" r="1.75" fill="#5587CC" stroke="#1A2036" stroke-width="0.8"/>
<circle cx="458.8" cy="395.2" r="1.75" fill="#5587CC" stroke="#1A2036" stroke-width="0.8"/>
<circle cx="411.1" cy="395.8" r="1.75" fill="#5587CC" stroke="#1A2036" stroke-width="0.8"/>
<circle cx="407.8" cy="398.7" r="1.75" fill="#5587CC" stroke="#1A2036" stroke-width="0.8"/>
<circle cx="414.2" cy="399.2" r="1.75" fill="#5587CC" stroke="#1A2036" stroke-width="0.8"/>
<circle cx="417.4" cy="397.3" r="1.75" fill="#5587CC" stroke="#1A2036" stroke-width="0.8"/>
<circle cx="401.1" cy="400" r="1.75" fill="#5587CC" stroke="#1A2036" stroke-width="0.8"/>
<circle cx="411.1" cy="401.2" r="1.75" fill="#5587CC" stroke="#1A2036" stroke-width="0.8"/>
<circle cx="407.8" cy="402.5" r="1.75" fill="#5587CC" stroke="#1A2036" stroke-width="0.8"/>
<circle cx="385.3" cy="402.5" r="1.75" fill="#5587CC" stroke="#1A2036" stroke-width="0.8"/>
<circle cx="394.9" cy="401.9" r="1.75" fill="#5587CC" stroke="#1A2036" stroke-width="0.8"/>
<circle cx="430.3" cy="401.9" r="1.75" fill="#5587CC" stroke="#1A2036" stroke-width="0.8"/>
<circle cx="433.8" cy="402.5" r="1.75" fill="#5587CC" stroke="#1A2036" stroke-width="0.8"/>
<circle cx="436.7" cy="402.5" r="1.75" fill="#5587CC" stroke="#1A2036" stroke-width="0.8"/>
<circle cx="439.5" cy="401.5" r="1.75" fill="#5587CC" stroke="#1A2036" stroke-width="0.8"/>
<circle cx="455.9" cy="401.5" r="1.75" fill="#5587CC" stroke="#1A2036" stroke-width="0.8"/>
<circle cx="458.8" cy="401.9" r="1.75" fill="#5587CC" stroke="#1A2036" stroke-width="0.8"/>
<circle cx="388.6" cy="407.5" r="1.75" fill="#5587CC" stroke="#1A2036" stroke-width="0.8"/>
<circle cx="382.2" cy="414.2" r="1.75" fill="#5587CC" stroke="#1A2036" stroke-width="0.8"/>
<circle cx="385.3" cy="420" r="1.75" fill="#5587CC" stroke="#1A2036" stroke-width="0.8"/>
<circle cx="391.8" cy="416.2" r="1.75" fill="#5587CC" stroke="#1A2036" stroke-width="0.8"/>
<circle cx="391.8" cy="427.7" r="1.75" fill="#5587CC" stroke="#1A2036" stroke-width="0.8"/>
<circle cx="401.5" cy="401.7" r="1.75" fill="#5587CC" stroke="#1A2036" stroke-width="0.8"/>
<circle cx="404.5" cy="410.4" r="1.75" fill="#5587CC" stroke="#1A2036" stroke-width="0.8"/>
<circle cx="404.5" cy="415.2" r="1.75" fill="#5587CC" stroke="#1A2036" stroke-width="0.8"/>
<circle cx="407.8" cy="405.6" r="1.75" fill="#5587CC" stroke="#1A2036" stroke-width="0.8"/>
<circle cx="404.5" cy="428.1" r="1.75" fill="#5587CC" stroke="#1A2036" stroke-width="0.8"/>
<circle cx="411.1" cy="410.4" r="1.75" fill="#5587CC" stroke="#1A2036" stroke-width="0.8"/>
<circle cx="414.2" cy="412.7" r="1.75" fill="#5587CC" stroke="#1A2036" stroke-width="0.8"/>
<circle cx="417.4" cy="412.3" r="1.75" fill="#5587CC" stroke="#1A2036" stroke-width="0.8"/>
<circle cx="420.7" cy="428.1" r="1.75" fill="#5587CC" stroke="#1A2036" stroke-width="0.8"/>
<circle cx="429.9" cy="411.3" r="1.75" fill="#5587CC" stroke="#1A2036" stroke-width="0.8"/>
<circle cx="436.7" cy="405" r="1.75" fill="#5587CC" stroke="#1A2036" stroke-width="0.8"/>
<circle cx="436.7" cy="410.8" r="1.75" fill="#5587CC" stroke="#1A2036" stroke-width="0.8"/>
<circle cx="436.7" cy="417.1" r="1.75" fill="#5587CC" stroke="#1A2036" stroke-width="0.8"/>
<circle cx="436.7" cy="425.8" r="1.75" fill="#5587CC" stroke="#1A2036" stroke-width="0.8"/>
<circle cx="455.9" cy="409.4" r="1.75" fill="#5587CC" stroke="#1A2036" stroke-width="0.8"/>
<circle cx="458.8" cy="414.2" r="1.75" fill="#5587CC" stroke="#1A2036" stroke-width="0.8"/>
<circle cx="462.2" cy="413.7" r="1.75" fill="#5587CC" stroke="#1A2036" stroke-width="0.8"/>
<circle cx="462.2" cy="427.3" r="1.75" fill="#5587CC" stroke="#1A2036" stroke-width="0.8"/>
<circle cx="462.2" cy="434.4" r="1.75" fill="#5587CC" stroke="#1A2036" stroke-width="0.8"/>
<circle cx="462.2" cy="444" r="1.75" fill="#5587CC" stroke="#1A2036" stroke-width="0.8"/>
<circle cx="465.5" cy="408.8" r="1.75" fill="#5587CC" stroke="#1A2036" stroke-width="0.8"/>
<circle cx="468.8" cy="406.5" r="1.75" fill="#5587CC" stroke="#1A2036" stroke-width="0.8"/>
<circle cx="468.8" cy="409.4" r="1.75" fill="#5587CC" stroke="#1A2036" stroke-width="0.8"/>
<circle cx="468.8" cy="412.7" r="1.75" fill="#5587CC" stroke="#1A2036" stroke-width="0.8"/>
<circle cx="468.8" cy="419.6" r="1.75" fill="#5587CC" stroke="#1A2036" stroke-width="0.8"/>
<circle cx="388.6" cy="448.8" r="1.75" fill="#5587CC" stroke="#1A2036" stroke-width="0.8"/>
<line x1="298" y1="403.1" x2="468.4" y2="403.1" stroke="#8a8a8a" stroke-width="0.8" stroke-opacity="0.8"/>
<polygon points="298,385.5 300.16,386.33 302.31,387.2 304.47,388.1 306.63,389.03 308.78,389.97 310.94,390.92 313.1,391.97 315.26,393.08 317.41,394.21 319.57,395.29 321.73,396.33 323.88,397.38 326.04,398.43 328.2,399.46 330.35,400.46 332.51,401.5 334.67,402.56 336.83,403.61 338.98,404.58 341.14,405.45 343.3,406.31 345.45,407.13 347.61,407.85 349.77,408.45 351.92,408.95 354.08,409.41 356.24,409.68 358.39,409.69 360.55,409.65 362.71,409.59 364.87,409.51 367.02,409.36 369.18,409.1 371.34,408.74 373.49,408.32 375.65,407.84 377.81,407.17 379.96,406.3 382.12,405.32 384.28,404.32 386.44,403.35 388.59,402.33 390.75,401.28 392.91,400.22 395.06,399.17 397.22,398.11 399.38,397.03 401.53,395.96 403.69,394.96 405.85,394.05 408.01,393.19 410.16,392.38 412.32,391.66 414.48,391.03 416.63,390.5 418.79,389.99 420.95,389.54 423.1,389.19 425.26,388.98 427.42,388.85 429.57,388.75 431.73,388.7 433.89,388.75 436.05,388.89 438.2,389.1 440.36,389.34 442.52,389.68 444.67,390.13 446.83,390.67 448.99,391.23 451.14,391.8 453.3,392.4 455.46,393.03 457.62,393.7 459.77,394.42 461.93,395.2 464.09,396.04 466.24,396.95 468.4,397.9 468.4,410.9 466.24,409.05 464.09,407.32 461.93,405.75 459.77,404.36 457.62,403.1 455.46,401.92 453.3,400.86 451.14,399.93 448.99,399.14 446.83,398.41 444.67,397.74 442.52,397.18 440.36,396.75 438.2,396.44 436.05,396.16 433.89,395.96 431.73,395.9 429.57,395.95 427.42,396.05 425.26,396.18 423.1,396.39 420.95,396.74 418.79,397.19 416.63,397.7 414.48,398.23 412.32,398.86 410.16,399.58 408.01,400.39 405.85,401.25 403.69,402.17 401.53,403.24 399.38,404.41 397.22,405.6 395.06,406.77 392.91,407.91 390.75,409.09 388.59,410.24 386.44,411.33 384.28,412.32 382.12,413.32 379.96,414.3 377.81,415.17 375.65,415.84 373.49,416.32 371.34,416.74 369.18,417.1 367.02,417.36 364.87,417.51 362.71,417.59 360.55,417.65 358.39,417.69 356.24,417.68 354.08,417.41 351.92,416.95 349.77,416.45 347.61,415.85 345.45,415.13 343.3,414.31 341.14,413.45 338.98,412.59 336.83,411.66 334.67,410.7 332.51,409.74 330.35,408.84 328.2,408.02 326.04,407.28 323.88,406.6 321.73,405.97 319.57,405.38 317.41,404.83 315.26,404.33 313.1,403.91 310.94,403.6 308.78,403.4 306.63,403.27 304.47,403.21 302.31,403.22 300.16,403.31 298,403.5" fill="#BEBEBE" fill-opacity="0.55"/>
<polyline points="298,394.5 300.16,394.82 302.31,395.21 304.47,395.65 306.63,396.15 308.78,396.68 310.94,397.26 313.1,397.94 315.26,398.71 317.41,399.52 319.57,400.34 321.73,401.15 323.88,401.99 326.04,402.86 328.2,403.74 330.35,404.65 332.51,405.62 334.67,406.63 336.83,407.64 338.98,408.59 341.14,409.45 343.3,410.31 345.45,411.13 347.61,411.85 349.77,412.45 351.92,412.95 354.08,413.41 356.24,413.68 358.39,413.69 360.55,413.65 362.71,413.59 364.87,413.51 367.02,413.36 369.18,413.1 371.34,412.74 373.49,412.32 375.65,411.84 377.81,411.17 379.96,410.3 382.12,409.32 384.28,408.32 386.44,407.34 388.59,406.29 390.75,405.18 392.91,404.07 395.06,402.97 397.22,401.86 399.38,400.72 401.53,399.6 403.69,398.57 405.85,397.65 408.01,396.79 410.16,395.98 412.32,395.26 414.48,394.63 416.63,394.1 418.79,393.59 420.95,393.14 423.1,392.79 425.26,392.58 427.42,392.45 429.57,392.35 431.73,392.3 433.89,392.36 436.05,392.53 438.2,392.77 440.36,393.05 442.52,393.43 444.67,393.94 446.83,394.54 448.99,395.19 451.14,395.87 453.3,396.63 455.46,397.47 457.62,398.4 459.77,399.39 461.93,400.48 464.09,401.68 466.24,403 468.4,404.4" fill="none" stroke="#EE6B7B" stroke-width="1.3" stroke-opacity="0.95"/>
<path d="M290.5,327.1 L290.5,478.6 L474.3,478.6" fill="none" stroke="#111" stroke-width="1.25"/>
<text x="287.5" y="360.2" font-size="9.8" text-anchor="end" fill="#111">2</text>
<text x="287.5" y="406.5" font-size="9.8" text-anchor="end" fill="#111">0</text>
<text x="287.5" y="452.8" font-size="9.8" text-anchor="end" fill="#111">-2</text>
<line x1="319.7" y1="478.6" x2="319.7" y2="480.40000000000003" stroke="#555" stroke-width="0.6"/>
<text transform="translate(325.3,486) rotate(-45)" font-size="9.4" text-anchor="end" fill="#111">Apr 2016</text>
<line x1="361.5" y1="478.6" x2="361.5" y2="480.40000000000003" stroke="#555" stroke-width="0.6"/>
<text transform="translate(367.1,486) rotate(-45)" font-size="9.4" text-anchor="end" fill="#111">Jul 2016</text>
<line x1="403.4" y1="478.6" x2="403.4" y2="480.40000000000003" stroke="#555" stroke-width="0.6"/>
<text transform="translate(409,486) rotate(-45)" font-size="9.4" text-anchor="end" fill="#111">Oct 2016</text>
<line x1="445.4" y1="478.6" x2="445.4" y2="480.40000000000003" stroke="#555" stroke-width="0.6"/>
<text transform="translate(451,486) rotate(-45)" font-size="9.4" text-anchor="end" fill="#111">Jan 2017</text>
<text x="384" y="521.3" font-size="9.4" text-anchor="middle" fill="#111">date</text>
<text transform="translate(278,402.9) rotate(-90)" font-size="9.5" text-anchor="middle" fill="#111">Normalized difference from median</text>
<text x="0.8" y="522.6" font-size="14.5">D</text>
<text x="117.5" y="538.5" font-size="9.5" text-anchor="middle" fill="#111">Borrelia mix PBMC 24h IL-1<tspan font-family="Liberation Serif">β</tspan></text>
<circle cx="47.6" cy="567.8" r="1.75" fill="#5587CC" stroke="#1A2036" stroke-width="0.8"/>
<circle cx="66.6" cy="575.6" r="1.75" fill="#5587CC" stroke="#1A2036" stroke-width="0.8"/>
<circle cx="111.3" cy="574.7" r="1.75" fill="#5587CC" stroke="#1A2036" stroke-width="0.8"/>
<circle cx="63.2" cy="584.2" r="1.75" fill="#5587CC" stroke="#1A2036" stroke-width="0.8"/>
<circle cx="66.6" cy="586.8" r="1.75" fill="#5587CC" stroke="#1A2036" stroke-width="0.8"/>
<circle cx="63.2" cy="590.3" r="1.75" fill="#5587CC" stroke="#1A2036" stroke-width="0.8"/>
<circle cx="85.7" cy="592.9" r="1.75" fill="#5587CC" stroke="#1A2036" stroke-width="0.8"/>
<circle cx="85.7" cy="596.9" r="1.75" fill="#5587CC" stroke="#1A2036" stroke-width="0.8"/>
<circle cx="63.2" cy="597.7" r="1.75" fill="#5587CC" stroke="#1A2036" stroke-width="0.8"/>
<circle cx="66.6" cy="601.5" r="1.75" fill="#5587CC" stroke="#1A2036" stroke-width="0.8"/>
<circle cx="47.6" cy="599.5" r="1.75" fill="#5587CC" stroke="#1A2036" stroke-width="0.8"/>
<circle cx="50.7" cy="601.5" r="1.75" fill="#5587CC" stroke="#1A2036" stroke-width="0.8"/>
<circle cx="73" cy="605" r="1.75" fill="#5587CC" stroke="#1A2036" stroke-width="0.8"/>
<circle cx="47.6" cy="605.9" r="1.75" fill="#5587CC" stroke="#1A2036" stroke-width="0.8"/>
<circle cx="47.6" cy="608.5" r="1.75" fill="#5587CC" stroke="#1A2036" stroke-width="0.8"/>
<circle cx="53.6" cy="611.1" r="1.75" fill="#5587CC" stroke="#1A2036" stroke-width="0.8"/>
<circle cx="59.7" cy="611.6" r="1.75" fill="#5587CC" stroke="#1A2036" stroke-width="0.8"/>
<circle cx="63.2" cy="610.2" r="1.75" fill="#5587CC" stroke="#1A2036" stroke-width="0.8"/>
<circle cx="66.6" cy="609.3" r="1.75" fill="#5587CC" stroke="#1A2036" stroke-width="0.8"/>
<circle cx="66.6" cy="611.9" r="1.75" fill="#5587CC" stroke="#1A2036" stroke-width="0.8"/>
<circle cx="69.7" cy="613.7" r="1.75" fill="#5587CC" stroke="#1A2036" stroke-width="0.8"/>
<circle cx="82.2" cy="610.7" r="1.75" fill="#5587CC" stroke="#1A2036" stroke-width="0.8"/>
<circle cx="86" cy="610.5" r="1.75" fill="#5587CC" stroke="#1A2036" stroke-width="0.8"/>
<circle cx="86" cy="611.6" r="1.75" fill="#5587CC" stroke="#1A2036" stroke-width="0.8"/>
<circle cx="108.2" cy="615" r="1.75" fill="#5587CC" stroke="#1A2036" stroke-width="0.8"/>
<circle cx="114.7" cy="613.7" r="1.75" fill="#5587CC" stroke="#1A2036" stroke-width="0.8"/>
<circle cx="118" cy="611.9" r="1.75" fill="#5587CC" stroke="#1A2036" stroke-width="0.8"/>
<circle cx="120.6" cy="610.2" r="1.75" fill="#5587CC" stroke="#1A2036" stroke-width="0.8"/>
<circle cx="37.2" cy="617.5" r="1.75" fill="#5587CC" stroke="#1A2036" stroke-width="0.8"/>
<circle cx="40.7" cy="616.2" r="1.75" fill="#5587CC" stroke="#1A2036" stroke-width="0.8"/>
<circle cx="47.6" cy="616.2" r="1.75" fill="#5587CC" stroke="#1A2036" stroke-width="0.8"/>
<circle cx="53.6" cy="616.2" r="1.75" fill="#5587CC" stroke="#1A2036" stroke-width="0.8"/>
<circle cx="66.6" cy="617.1" r="1.75" fill="#5587CC" stroke="#1A2036" stroke-width="0.8"/>
<circle cx="70.1" cy="618.8" r="1.75" fill="#5587CC" stroke="#1A2036" stroke-width="0.8"/>
<circle cx="73.5" cy="620.2" r="1.75" fill="#5587CC" stroke="#1A2036" stroke-width="0.8"/>
<circle cx="82.2" cy="617.1" r="1.75" fill="#5587CC" stroke="#1A2036" stroke-width="0.8"/>
<circle cx="86" cy="616.2" r="1.75" fill="#5587CC" stroke="#1A2036" stroke-width="0.8"/>
<circle cx="89.1" cy="615.4" r="1.75" fill="#5587CC" stroke="#1A2036" stroke-width="0.8"/>
<circle cx="89.1" cy="619.7" r="1.75" fill="#5587CC" stroke="#1A2036" stroke-width="0.8"/>
<circle cx="95.2" cy="617.5" r="1.75" fill="#5587CC" stroke="#1A2036" stroke-width="0.8"/>
<circle cx="114.7" cy="617.1" r="1.75" fill="#5587CC" stroke="#1A2036" stroke-width="0.8"/>
<circle cx="120.6" cy="618.8" r="1.75" fill="#5587CC" stroke="#1A2036" stroke-width="0.8"/>
<circle cx="53.6" cy="620.2" r="1.75" fill="#5587CC" stroke="#1A2036" stroke-width="0.8"/>
<circle cx="59.7" cy="623.7" r="1.75" fill="#5587CC" stroke="#1A2036" stroke-width="0.8"/>
<circle cx="95.2" cy="622.7" r="1.75" fill="#5587CC" stroke="#1A2036" stroke-width="0.8"/>
<circle cx="104.7" cy="623.7" r="1.75" fill="#5587CC" stroke="#1A2036" stroke-width="0.8"/>
<circle cx="111.6" cy="620.6" r="1.75" fill="#5587CC" stroke="#1A2036" stroke-width="0.8"/>
<circle cx="114.7" cy="623.2" r="1.75" fill="#5587CC" stroke="#1A2036" stroke-width="0.8"/>
<circle cx="120.6" cy="622.7" r="1.75" fill="#5587CC" stroke="#1A2036" stroke-width="0.8"/>
<circle cx="37.2" cy="624" r="1.75" fill="#5587CC" stroke="#1A2036" stroke-width="0.8"/>
<circle cx="37.2" cy="630.7" r="1.75" fill="#5587CC" stroke="#1A2036" stroke-width="0.8"/>
<circle cx="40.7" cy="638.5" r="1.75" fill="#5587CC" stroke="#1A2036" stroke-width="0.8"/>
<circle cx="53.6" cy="627.9" r="1.75" fill="#5587CC" stroke="#1A2036" stroke-width="0.8"/>
<circle cx="53.6" cy="634.2" r="1.75" fill="#5587CC" stroke="#1A2036" stroke-width="0.8"/>
<circle cx="59.7" cy="625.8" r="1.75" fill="#5587CC" stroke="#1A2036" stroke-width="0.8"/>
<circle cx="63.2" cy="627.6" r="1.75" fill="#5587CC" stroke="#1A2036" stroke-width="0.8"/>
<circle cx="59.7" cy="637.1" r="1.75" fill="#5587CC" stroke="#1A2036" stroke-width="0.8"/>
<circle cx="73" cy="628.8" r="1.75" fill="#5587CC" stroke="#1A2036" stroke-width="0.8"/>
<circle cx="76.1" cy="626.7" r="1.75" fill="#5587CC" stroke="#1A2036" stroke-width="0.8"/>
<circle cx="82.2" cy="628.4" r="1.75" fill="#5587CC" stroke="#1A2036" stroke-width="0.8"/>
<circle cx="89.1" cy="624.1" r="1.75" fill="#5587CC" stroke="#1A2036" stroke-width="0.8"/>
<circle cx="95.2" cy="632.8" r="1.75" fill="#5587CC" stroke="#1A2036" stroke-width="0.8"/>
<circle cx="95.2" cy="638.8" r="1.75" fill="#5587CC" stroke="#1A2036" stroke-width="0.8"/>
<circle cx="95.2" cy="642.6" r="1.75" fill="#5587CC" stroke="#1A2036" stroke-width="0.8"/>
<circle cx="91.7" cy="653.5" r="1.75" fill="#5587CC" stroke="#1A2036" stroke-width="0.8"/>
<circle cx="91.7" cy="657" r="1.75" fill="#5587CC" stroke="#1A2036" stroke-width="0.8"/>
<circle cx="91.7" cy="663.4" r="1.75" fill="#5587CC" stroke="#1A2036" stroke-width="0.8"/>
<circle cx="108.2" cy="624.5" r="1.75" fill="#5587CC" stroke="#1A2036" stroke-width="0.8"/>
<circle cx="108.2" cy="646.6" r="1.75" fill="#5587CC" stroke="#1A2036" stroke-width="0.8"/>
<circle cx="104.7" cy="657.3" r="1.75" fill="#5587CC" stroke="#1A2036" stroke-width="0.8"/>
<circle cx="104.7" cy="661.3" r="1.75" fill="#5587CC" stroke="#1A2036" stroke-width="0.8"/>
<circle cx="104.7" cy="668.2" r="1.75" fill="#5587CC" stroke="#1A2036" stroke-width="0.8"/>
<circle cx="104.9" cy="677.8" r="1.75" fill="#5587CC" stroke="#1A2036" stroke-width="0.8"/>
<circle cx="111.3" cy="634.8" r="1.75" fill="#5587CC" stroke="#1A2036" stroke-width="0.8"/>
<circle cx="111.3" cy="657.5" r="1.75" fill="#5587CC" stroke="#1A2036" stroke-width="0.8"/>
<circle cx="118.2" cy="618.1" r="1.75" fill="#5587CC" stroke="#1A2036" stroke-width="0.8"/>
<circle cx="120.6" cy="625" r="1.75" fill="#5587CC" stroke="#1A2036" stroke-width="0.8"/>
<circle cx="156.1" cy="564.2" r="1.75" fill="#5587CC" stroke="#1A2036" stroke-width="0.8"/>
<circle cx="191.1" cy="565.8" r="1.75" fill="#5587CC" stroke="#1A2036" stroke-width="0.8"/>
<circle cx="156.1" cy="576.9" r="1.75" fill="#5587CC" stroke="#1A2036" stroke-width="0.8"/>
<circle cx="194.5" cy="583.1" r="1.75" fill="#5587CC" stroke="#1A2036" stroke-width="0.8"/>
<circle cx="156.1" cy="587.9" r="1.75" fill="#5587CC" stroke="#1A2036" stroke-width="0.8"/>
<circle cx="156.1" cy="592.7" r="1.75" fill="#5587CC" stroke="#1A2036" stroke-width="0.8"/>
<circle cx="162.6" cy="591.2" r="1.75" fill="#5587CC" stroke="#1A2036" stroke-width="0.8"/>
<circle cx="194.5" cy="591.2" r="1.75" fill="#5587CC" stroke="#1A2036" stroke-width="0.8"/>
<circle cx="133.8" cy="595" r="1.75" fill="#5587CC" stroke="#1A2036" stroke-width="0.8"/>
<circle cx="136.8" cy="594.2" r="1.75" fill="#5587CC" stroke="#1A2036" stroke-width="0.8"/>
<circle cx="136.8" cy="595.6" r="1.75" fill="#5587CC" stroke="#1A2036" stroke-width="0.8"/>
<circle cx="143" cy="595" r="1.75" fill="#5587CC" stroke="#1A2036" stroke-width="0.8"/>
<circle cx="175.3" cy="596.2" r="1.75" fill="#5587CC" stroke="#1A2036" stroke-width="0.8"/>
<circle cx="178.6" cy="593.1" r="1.75" fill="#5587CC" stroke="#1A2036" stroke-width="0.8"/>
<circle cx="178.6" cy="597.5" r="1.75" fill="#5587CC" stroke="#1A2036" stroke-width="0.8"/>
<circle cx="169" cy="599.4" r="1.75" fill="#5587CC" stroke="#1A2036" stroke-width="0.8"/>
<circle cx="136.8" cy="601.3" r="1.75" fill="#5587CC" stroke="#1A2036" stroke-width="0.8"/>
<circle cx="140.1" cy="601.3" r="1.75" fill="#5587CC" stroke="#1A2036" stroke-width="0.8"/>
<circle cx="127.2" cy="607.7" r="1.75" fill="#5587CC" stroke="#1A2036" stroke-width="0.8"/>
<circle cx="120.9" cy="610" r="1.75" fill="#5587CC" stroke="#1A2036" stroke-width="0.8"/>
<circle cx="146.5" cy="605.2" r="1.75" fill="#5587CC" stroke="#1A2036" stroke-width="0.8"/>
<circle cx="146.5" cy="608.1" r="1.75" fill="#5587CC" stroke="#1A2036" stroke-width="0.8"/>
<circle cx="166.1" cy="603.8" r="1.75" fill="#5587CC" stroke="#1A2036" stroke-width="0.8"/>
<circle cx="169" cy="605.2" r="1.75" fill="#5587CC" stroke="#1A2036" stroke-width="0.8"/>
<circle cx="162.6" cy="607.1" r="1.75" fill="#5587CC" stroke="#1A2036" stroke-width="0.8"/>
<circle cx="175.3" cy="606.5" r="1.75" fill="#5587CC" stroke="#1A2036" stroke-width="0.8"/>
<circle cx="197.8" cy="606.2" r="1.75" fill="#5587CC" stroke="#1A2036" stroke-width="0.8"/>
<circle cx="207.4" cy="605.2" r="1.75" fill="#5587CC" stroke="#1A2036" stroke-width="0.8"/>
<circle cx="207.4" cy="608.1" r="1.75" fill="#5587CC" stroke="#1A2036" stroke-width="0.8"/>
<circle cx="207.4" cy="611.5" r="1.75" fill="#5587CC" stroke="#1A2036" stroke-width="0.8"/>
<circle cx="200.7" cy="610" r="1.75" fill="#5587CC" stroke="#1A2036" stroke-width="0.8"/>
<circle cx="178.6" cy="609" r="1.75" fill="#5587CC" stroke="#1A2036" stroke-width="0.8"/>
<circle cx="178.6" cy="611.9" r="1.75" fill="#5587CC" stroke="#1A2036" stroke-width="0.8"/>
<circle cx="188.2" cy="611" r="1.75" fill="#5587CC" stroke="#1A2036" stroke-width="0.8"/>
<circle cx="188.2" cy="615.8" r="1.75" fill="#5587CC" stroke="#1A2036" stroke-width="0.8"/>
<circle cx="136.8" cy="610.4" r="1.75" fill="#5587CC" stroke="#1A2036" stroke-width="0.8"/>
<circle cx="140.1" cy="611.9" r="1.75" fill="#5587CC" stroke="#1A2036" stroke-width="0.8"/>
<circle cx="143.4" cy="610.4" r="1.75" fill="#5587CC" stroke="#1A2036" stroke-width="0.8"/>
<circle cx="133.8" cy="614.8" r="1.75" fill="#5587CC" stroke="#1A2036" stroke-width="0.8"/>
<circle cx="130.5" cy="617.7" r="1.75" fill="#5587CC" stroke="#1A2036" stroke-width="0.8"/>
<circle cx="123.8" cy="617.3" r="1.75" fill="#5587CC" stroke="#1A2036" stroke-width="0.8"/>
<circle cx="149.7" cy="615.8" r="1.75" fill="#5587CC" stroke="#1A2036" stroke-width="0.8"/>
<circle cx="152.6" cy="615.8" r="1.75" fill="#5587CC" stroke="#1A2036" stroke-width="0.8"/>
<circle cx="162.6" cy="615.8" r="1.75" fill="#5587CC" stroke="#1A2036" stroke-width="0.8"/>
<circle cx="169" cy="616.7" r="1.75" fill="#5587CC" stroke="#1A2036" stroke-width="0.8"/>
<circle cx="178.6" cy="616.7" r="1.75" fill="#5587CC" stroke="#1A2036" stroke-width="0.8"/>
<circle cx="191.1" cy="617.7" r="1.75" fill="#5587CC" stroke="#1A2036" stroke-width="0.8"/>
<circle cx="197.8" cy="614.8" r="1.75" fill="#5587CC" stroke="#1A2036" stroke-width="0.8"/>
<circle cx="200.7" cy="615.8" r="1.75" fill="#5587CC" stroke="#1A2036" stroke-width="0.8"/>
<circle cx="207.4" cy="617.3" r="1.75" fill="#5587CC" stroke="#1A2036" stroke-width="0.8"/>
<circle cx="140.1" cy="621.5" r="1.75" fill="#5587CC" stroke="#1A2036" stroke-width="0.8"/>
<circle cx="143" cy="620" r="1.75" fill="#5587CC" stroke="#1A2036" stroke-width="0.8"/>
<circle cx="147.8" cy="620.6" r="1.75" fill="#5587CC" stroke="#1A2036" stroke-width="0.8"/>
<circle cx="152.6" cy="623.5" r="1.75" fill="#5587CC" stroke="#1A2036" stroke-width="0.8"/>
<circle cx="169" cy="618.7" r="1.75" fill="#5587CC" stroke="#1A2036" stroke-width="0.8"/>
<circle cx="175.3" cy="619.6" r="1.75" fill="#5587CC" stroke="#1A2036" stroke-width="0.8"/>
<circle cx="175.3" cy="621.9" r="1.75" fill="#5587CC" stroke="#1A2036" stroke-width="0.8"/>
<circle cx="178.6" cy="621.5" r="1.75" fill="#5587CC" stroke="#1A2036" stroke-width="0.8"/>
<circle cx="191.1" cy="621.5" r="1.75" fill="#5587CC" stroke="#1A2036" stroke-width="0.8"/>
<circle cx="197.8" cy="623.1" r="1.75" fill="#5587CC" stroke="#1A2036" stroke-width="0.8"/>
<circle cx="200.7" cy="622.5" r="1.75" fill="#5587CC" stroke="#1A2036" stroke-width="0.8"/>
<circle cx="204.2" cy="623.1" r="1.75" fill="#5587CC" stroke="#1A2036" stroke-width="0.8"/>
<circle cx="120.9" cy="623.8" r="1.75" fill="#5587CC" stroke="#1A2036" stroke-width="0.8"/>
<circle cx="124.7" cy="616.8" r="1.75" fill="#5587CC" stroke="#1A2036" stroke-width="0.8"/>
<circle cx="120.9" cy="631.2" r="1.75" fill="#5587CC" stroke="#1A2036" stroke-width="0.8"/>
<circle cx="130.5" cy="622.6" r="1.75" fill="#5587CC" stroke="#1A2036" stroke-width="0.8"/>
<circle cx="130.5" cy="627.8" r="1.75" fill="#5587CC" stroke="#1A2036" stroke-width="0.8"/>
<circle cx="127.2" cy="649.9" r="1.75" fill="#5587CC" stroke="#1A2036" stroke-width="0.8"/>
<circle cx="149.7" cy="622.6" r="1.75" fill="#5587CC" stroke="#1A2036" stroke-width="0.8"/>
<circle cx="149.7" cy="625.8" r="1.75" fill="#5587CC" stroke="#1A2036" stroke-width="0.8"/>
<circle cx="153" cy="624.5" r="1.75" fill="#5587CC" stroke="#1A2036" stroke-width="0.8"/>
<circle cx="153" cy="632.2" r="1.75" fill="#5587CC" stroke="#1A2036" stroke-width="0.8"/>
<circle cx="149.7" cy="638.5" r="1.75" fill="#5587CC" stroke="#1A2036" stroke-width="0.8"/>
<circle cx="149.7" cy="645.1" r="1.75" fill="#5587CC" stroke="#1A2036" stroke-width="0.8"/>
<circle cx="153" cy="650.5" r="1.75" fill="#5587CC" stroke="#1A2036" stroke-width="0.8"/>
<circle cx="159.3" cy="634.5" r="1.75" fill="#5587CC" stroke="#1A2036" stroke-width="0.8"/>
<circle cx="172.2" cy="628.3" r="1.75" fill="#5587CC" stroke="#1A2036" stroke-width="0.8"/>
<circle cx="180.5" cy="621.2" r="1.75" fill="#5587CC" stroke="#1A2036" stroke-width="0.8"/>
<circle cx="178.6" cy="630.3" r="1.75" fill="#5587CC" stroke="#1A2036" stroke-width="0.8"/>
<circle cx="175.3" cy="635.5" r="1.75" fill="#5587CC" stroke="#1A2036" stroke-width="0.8"/>
<circle cx="191.5" cy="619.3" r="1.75" fill="#5587CC" stroke="#1A2036" stroke-width="0.8"/>
<circle cx="204.2" cy="626.4" r="1.75" fill="#5587CC" stroke="#1A2036" stroke-width="0.8"/>
<circle cx="197.8" cy="630.8" r="1.75" fill="#5587CC" stroke="#1A2036" stroke-width="0.8"/>
<circle cx="197.8" cy="651.4" r="1.75" fill="#5587CC" stroke="#1A2036" stroke-width="0.8"/>
<circle cx="204.2" cy="650.5" r="1.75" fill="#5587CC" stroke="#1A2036" stroke-width="0.8"/>
<line x1="37.2" y1="617.55" x2="207.4" y2="617.55" stroke="#8a8a8a" stroke-width="0.8" stroke-opacity="0.8"/>
<polygon points="37.2,599.6 39.35,600.44 41.51,601.3 43.66,602.17 45.82,603.05 47.97,603.95 50.13,604.85 52.28,605.78 54.44,606.72 56.59,607.68 58.74,608.65 60.9,609.63 63.05,610.61 65.21,611.59 67.36,612.61 69.52,613.68 71.67,614.78 73.83,615.89 75.98,617 78.13,618.08 80.29,619.12 82.44,620.11 84.6,621.14 86.75,622.24 88.91,623.29 91.06,624.21 93.22,624.89 95.37,625.24 97.52,625.44 99.68,625.6 101.83,625.73 103.99,625.79 106.14,625.75 108.3,625.38 110.45,624.74 112.61,623.91 114.76,622.96 116.91,621.98 119.07,621 121.22,619.78 123.38,618.38 125.53,616.92 127.69,615.52 129.84,614.28 131.99,613.18 134.15,612.08 136.3,611.06 138.46,610.18 140.61,609.5 142.77,608.99 144.92,608.53 147.08,608.12 149.23,607.77 151.38,607.49 153.54,607.29 155.69,607.17 157.85,607.08 160,606.99 162.16,606.92 164.31,606.87 166.47,606.83 168.62,606.8 170.77,606.8 172.93,606.85 175.08,606.94 177.24,607.07 179.39,607.23 181.55,607.41 183.7,607.59 185.86,607.77 188.01,607.96 190.16,608.17 192.32,608.41 194.47,608.68 196.63,608.98 198.78,609.34 200.94,609.8 203.09,610.37 205.25,611.01 207.4,611.7 207.4,623.7 205.25,622.38 203.09,621.15 200.94,620.04 198.78,619.1 196.63,618.31 194.47,617.58 192.32,616.91 190.16,616.32 188.01,615.81 185.86,615.42 183.7,615.13 181.55,614.86 179.39,614.6 177.24,614.38 175.08,614.2 172.93,614.07 170.77,614.01 168.62,614 166.47,614.03 164.31,614.07 162.16,614.12 160,614.19 157.85,614.28 155.69,614.37 153.54,614.49 151.38,614.69 149.23,614.97 147.08,615.32 144.92,615.73 142.77,616.19 140.61,616.7 138.46,617.42 136.3,618.38 134.15,619.5 131.99,620.69 129.84,621.89 127.69,623.21 125.53,624.71 123.38,626.26 121.22,627.73 119.07,628.99 116.91,629.98 114.76,630.96 112.61,631.91 110.45,632.74 108.3,633.38 106.14,633.75 103.99,633.8 101.83,633.75 99.68,633.68 97.52,633.57 95.37,633.43 93.22,633.14 91.06,632.55 88.91,631.73 86.75,630.79 84.6,629.81 82.44,628.9 80.29,628.03 78.13,627.11 75.98,626.16 73.83,625.19 71.67,624.22 69.52,623.28 67.36,622.4 65.21,621.57 63.05,620.83 60.9,620.13 58.74,619.49 56.59,618.88 54.44,618.31 52.28,617.76 50.13,617.23 47.97,616.72 45.82,616.24 43.66,615.79 41.51,615.36 39.35,614.97 37.2,614.6" fill="#BEBEBE" fill-opacity="0.55"/>
<polyline points="37.2,607.1 39.35,607.71 41.51,608.33 43.66,608.98 45.82,609.65 47.97,610.34 50.13,611.04 52.28,611.77 54.44,612.51 56.59,613.28 58.74,614.07 60.9,614.88 63.05,615.72 65.21,616.58 67.36,617.5 69.52,618.48 71.67,619.5 73.83,620.54 75.98,621.58 78.13,622.6 80.29,623.58 82.44,624.5 84.6,625.48 86.75,626.51 88.91,627.51 91.06,628.38 93.22,629.02 95.37,629.33 97.52,629.5 99.68,629.64 101.83,629.74 103.99,629.79 106.14,629.75 108.3,629.38 110.45,628.74 112.61,627.91 114.76,626.96 116.91,625.98 119.07,624.99 121.22,623.75 123.38,622.32 125.53,620.82 127.69,619.36 129.84,618.08 131.99,616.93 134.15,615.79 136.3,614.72 138.46,613.8 140.61,613.1 142.77,612.59 144.92,612.13 147.08,611.72 149.23,611.37 151.38,611.09 153.54,610.89 155.69,610.77 157.85,610.68 160,610.59 162.16,610.52 164.31,610.47 166.47,610.43 168.62,610.4 170.77,610.4 172.93,610.46 175.08,610.57 177.24,610.73 179.39,610.92 181.55,611.13 183.7,611.36 185.86,611.6 188.01,611.89 190.16,612.25 192.32,612.66 194.47,613.13 196.63,613.65 198.78,614.22 200.94,614.92 203.09,615.76 205.25,616.69 207.4,617.7" fill="none" stroke="#EE6B7B" stroke-width="1.3" stroke-opacity="0.95"/>
<path d="M29.3,541.5 L29.3,693.2 L215,693.2" fill="none" stroke="#111" stroke-width="1.25"/>
<text x="26.3" y="574.95" font-size="9.8" text-anchor="end" fill="#111">2</text>
<text x="26.3" y="620.95" font-size="9.8" text-anchor="end" fill="#111">0</text>
<text x="26.3" y="666.95" font-size="9.8" text-anchor="end" fill="#111">-2</text>
<line x1="58.8" y1="693.2" x2="58.8" y2="695.0" stroke="#555" stroke-width="0.6"/>
<text transform="translate(64.4,700.6) rotate(-45)" font-size="9.4" text-anchor="end" fill="#111">Apr 2016</text>
<line x1="100" y1="693.2" x2="100" y2="695.0" stroke="#555" stroke-width="0.6"/>
<text transform="translate(105.6,700.6) rotate(-45)" font-size="9.4" text-anchor="end" fill="#111">Jul 2016</text>
<line x1="142.8" y1="693.2" x2="142.8" y2="695.0" stroke="#555" stroke-width="0.6"/>
<text transform="translate(148.4,700.6) rotate(-45)" font-size="9.4" text-anchor="end" fill="#111">Oct 2016</text>
<line x1="184.3" y1="693.2" x2="184.3" y2="695.0" stroke="#555" stroke-width="0.6"/>
<text transform="translate(189.9,700.6) rotate(-45)" font-size="9.4" text-anchor="end" fill="#111">Jan 2017</text>
<text x="122.5" y="737" font-size="9.4" text-anchor="middle" fill="#111">date</text>
<text transform="translate(16.2,617.5) rotate(-90)" font-size="9.5" text-anchor="middle" fill="#111">Normalized difference from median</text>
<text x="251.8" y="521" font-size="14.5">E</text>
<text x="386" y="539" font-size="9.5" text-anchor="middle" fill="#111">B. burgdorferi PBMC 24h IL-1<tspan font-family="Liberation Serif">β</tspan></text>
<circle cx="377.3" cy="555.9" r="1.75" fill="#5587CC" stroke="#1A2036" stroke-width="0.8"/>
<circle cx="333.5" cy="565.7" r="1.75" fill="#5587CC" stroke="#1A2036" stroke-width="0.8"/>
<circle cx="333.5" cy="575.4" r="1.75" fill="#5587CC" stroke="#1A2036" stroke-width="0.8"/>
<circle cx="352.5" cy="581.3" r="1.75" fill="#5587CC" stroke="#1A2036" stroke-width="0.8"/>
<circle cx="349.1" cy="592.2" r="1.75" fill="#5587CC" stroke="#1A2036" stroke-width="0.8"/>
<circle cx="333.5" cy="597.9" r="1.75" fill="#5587CC" stroke="#1A2036" stroke-width="0.8"/>
<circle cx="330.5" cy="602.1" r="1.75" fill="#5587CC" stroke="#1A2036" stroke-width="0.8"/>
<circle cx="333.5" cy="603.1" r="1.75" fill="#5587CC" stroke="#1A2036" stroke-width="0.8"/>
<circle cx="330.5" cy="605.5" r="1.75" fill="#5587CC" stroke="#1A2036" stroke-width="0.8"/>
<circle cx="352.5" cy="603.1" r="1.75" fill="#5587CC" stroke="#1A2036" stroke-width="0.8"/>
<circle cx="349.1" cy="605.5" r="1.75" fill="#5587CC" stroke="#1A2036" stroke-width="0.8"/>
<circle cx="339.5" cy="609" r="1.75" fill="#5587CC" stroke="#1A2036" stroke-width="0.8"/>
<circle cx="333.5" cy="609.5" r="1.75" fill="#5587CC" stroke="#1A2036" stroke-width="0.8"/>
<circle cx="320.8" cy="611.8" r="1.75" fill="#5587CC" stroke="#1A2036" stroke-width="0.8"/>
<circle cx="317.9" cy="613.8" r="1.75" fill="#5587CC" stroke="#1A2036" stroke-width="0.8"/>
<circle cx="320.8" cy="614.7" r="1.75" fill="#5587CC" stroke="#1A2036" stroke-width="0.8"/>
<circle cx="330.5" cy="611.2" r="1.75" fill="#5587CC" stroke="#1A2036" stroke-width="0.8"/>
<circle cx="327.1" cy="614.2" r="1.75" fill="#5587CC" stroke="#1A2036" stroke-width="0.8"/>
<circle cx="330.5" cy="613" r="1.75" fill="#5587CC" stroke="#1A2036" stroke-width="0.8"/>
<circle cx="339.5" cy="614.2" r="1.75" fill="#5587CC" stroke="#1A2036" stroke-width="0.8"/>
<circle cx="343" cy="614.2" r="1.75" fill="#5587CC" stroke="#1A2036" stroke-width="0.8"/>
<circle cx="352.5" cy="610.7" r="1.75" fill="#5587CC" stroke="#1A2036" stroke-width="0.8"/>
<circle cx="352.5" cy="613" r="1.75" fill="#5587CC" stroke="#1A2036" stroke-width="0.8"/>
<circle cx="352.5" cy="615.2" r="1.75" fill="#5587CC" stroke="#1A2036" stroke-width="0.8"/>
<circle cx="371.6" cy="610.7" r="1.75" fill="#5587CC" stroke="#1A2036" stroke-width="0.8"/>
<circle cx="371.6" cy="614.2" r="1.75" fill="#5587CC" stroke="#1A2036" stroke-width="0.8"/>
<circle cx="375" cy="614.7" r="1.75" fill="#5587CC" stroke="#1A2036" stroke-width="0.8"/>
<circle cx="377.6" cy="614.7" r="1.75" fill="#5587CC" stroke="#1A2036" stroke-width="0.8"/>
<circle cx="314.4" cy="617" r="1.75" fill="#5587CC" stroke="#1A2036" stroke-width="0.8"/>
<circle cx="381" cy="617.3" r="1.75" fill="#5587CC" stroke="#1A2036" stroke-width="0.8"/>
<circle cx="386.6" cy="616.4" r="1.75" fill="#5587CC" stroke="#1A2036" stroke-width="0.8"/>
<circle cx="304.9" cy="622.4" r="1.75" fill="#5587CC" stroke="#1A2036" stroke-width="0.8"/>
<circle cx="304.9" cy="625.8" r="1.75" fill="#5587CC" stroke="#1A2036" stroke-width="0.8"/>
<circle cx="308.4" cy="627.2" r="1.75" fill="#5587CC" stroke="#1A2036" stroke-width="0.8"/>
<circle cx="304.9" cy="632.4" r="1.75" fill="#5587CC" stroke="#1A2036" stroke-width="0.8"/>
<circle cx="308.4" cy="642.8" r="1.75" fill="#5587CC" stroke="#1A2036" stroke-width="0.8"/>
<circle cx="314.4" cy="619.8" r="1.75" fill="#5587CC" stroke="#1A2036" stroke-width="0.8"/>
<circle cx="314.4" cy="625" r="1.75" fill="#5587CC" stroke="#1A2036" stroke-width="0.8"/>
<circle cx="314.4" cy="631" r="1.75" fill="#5587CC" stroke="#1A2036" stroke-width="0.8"/>
<circle cx="314.4" cy="633.1" r="1.75" fill="#5587CC" stroke="#1A2036" stroke-width="0.8"/>
<circle cx="317.9" cy="619.3" r="1.75" fill="#5587CC" stroke="#1A2036" stroke-width="0.8"/>
<circle cx="320.8" cy="627.2" r="1.75" fill="#5587CC" stroke="#1A2036" stroke-width="0.8"/>
<circle cx="320.8" cy="631" r="1.75" fill="#5587CC" stroke="#1A2036" stroke-width="0.8"/>
<circle cx="320.8" cy="642.8" r="1.75" fill="#5587CC" stroke="#1A2036" stroke-width="0.8"/>
<circle cx="320.8" cy="659.1" r="1.75" fill="#5587CC" stroke="#1A2036" stroke-width="0.8"/>
<circle cx="327.1" cy="618.1" r="1.75" fill="#5587CC" stroke="#1A2036" stroke-width="0.8"/>
<circle cx="327.1" cy="625.8" r="1.75" fill="#5587CC" stroke="#1A2036" stroke-width="0.8"/>
<circle cx="327.1" cy="629" r="1.75" fill="#5587CC" stroke="#1A2036" stroke-width="0.8"/>
<circle cx="327.1" cy="635.9" r="1.75" fill="#5587CC" stroke="#1A2036" stroke-width="0.8"/>
<circle cx="330" cy="619" r="1.75" fill="#5587CC" stroke="#1A2036" stroke-width="0.8"/>
<circle cx="333.5" cy="619" r="1.75" fill="#5587CC" stroke="#1A2036" stroke-width="0.8"/>
<circle cx="337" cy="619.8" r="1.75" fill="#5587CC" stroke="#1A2036" stroke-width="0.8"/>
<circle cx="340.4" cy="620.3" r="1.75" fill="#5587CC" stroke="#1A2036" stroke-width="0.8"/>
<circle cx="343.3" cy="620.7" r="1.75" fill="#5587CC" stroke="#1A2036" stroke-width="0.8"/>
<circle cx="340.4" cy="614" r="1.75" fill="#5587CC" stroke="#1A2036" stroke-width="0.8"/>
<circle cx="343.3" cy="614" r="1.75" fill="#5587CC" stroke="#1A2036" stroke-width="0.8"/>
<circle cx="349.1" cy="618.9" r="1.75" fill="#5587CC" stroke="#1A2036" stroke-width="0.8"/>
<circle cx="352.5" cy="613.7" r="1.75" fill="#5587CC" stroke="#1A2036" stroke-width="0.8"/>
<circle cx="356" cy="622" r="1.75" fill="#5587CC" stroke="#1A2036" stroke-width="0.8"/>
<circle cx="356" cy="625" r="1.75" fill="#5587CC" stroke="#1A2036" stroke-width="0.8"/>
<circle cx="356" cy="628.4" r="1.75" fill="#5587CC" stroke="#1A2036" stroke-width="0.8"/>
<circle cx="358.6" cy="633.6" r="1.75" fill="#5587CC" stroke="#1A2036" stroke-width="0.8"/>
<circle cx="358.6" cy="636.6" r="1.75" fill="#5587CC" stroke="#1A2036" stroke-width="0.8"/>
<circle cx="358.6" cy="642.3" r="1.75" fill="#5587CC" stroke="#1A2036" stroke-width="0.8"/>
<circle cx="358.6" cy="644" r="1.75" fill="#5587CC" stroke="#1A2036" stroke-width="0.8"/>
<circle cx="362" cy="642.8" r="1.75" fill="#5587CC" stroke="#1A2036" stroke-width="0.8"/>
<circle cx="362" cy="621.5" r="1.75" fill="#5587CC" stroke="#1A2036" stroke-width="0.8"/>
<circle cx="362" cy="630.7" r="1.75" fill="#5587CC" stroke="#1A2036" stroke-width="0.8"/>
<circle cx="362" cy="658.7" r="1.75" fill="#5587CC" stroke="#1A2036" stroke-width="0.8"/>
<circle cx="358.6" cy="665.3" r="1.75" fill="#5587CC" stroke="#1A2036" stroke-width="0.8"/>
<circle cx="371.6" cy="619.3" r="1.75" fill="#5587CC" stroke="#1A2036" stroke-width="0.8"/>
<circle cx="371.6" cy="622" r="1.75" fill="#5587CC" stroke="#1A2036" stroke-width="0.8"/>
<circle cx="375" cy="620.7" r="1.75" fill="#5587CC" stroke="#1A2036" stroke-width="0.8"/>
<circle cx="381.1" cy="617.2" r="1.75" fill="#5587CC" stroke="#1A2036" stroke-width="0.8"/>
<circle cx="384.5" cy="622.4" r="1.75" fill="#5587CC" stroke="#1A2036" stroke-width="0.8"/>
<circle cx="371.6" cy="629" r="1.75" fill="#5587CC" stroke="#1A2036" stroke-width="0.8"/>
<circle cx="375" cy="628.4" r="1.75" fill="#5587CC" stroke="#1A2036" stroke-width="0.8"/>
<circle cx="378" cy="627.9" r="1.75" fill="#5587CC" stroke="#1A2036" stroke-width="0.8"/>
<circle cx="381.1" cy="628.4" r="1.75" fill="#5587CC" stroke="#1A2036" stroke-width="0.8"/>
<circle cx="381.1" cy="632.8" r="1.75" fill="#5587CC" stroke="#1A2036" stroke-width="0.8"/>
<circle cx="371.6" cy="637.1" r="1.75" fill="#5587CC" stroke="#1A2036" stroke-width="0.8"/>
<circle cx="381.1" cy="637.1" r="1.75" fill="#5587CC" stroke="#1A2036" stroke-width="0.8"/>
<circle cx="386.6" cy="638.3" r="1.75" fill="#5587CC" stroke="#1A2036" stroke-width="0.8"/>
<circle cx="375" cy="641.8" r="1.75" fill="#5587CC" stroke="#1A2036" stroke-width="0.8"/>
<circle cx="378" cy="639.7" r="1.75" fill="#5587CC" stroke="#1A2036" stroke-width="0.8"/>
<circle cx="371.6" cy="644" r="1.75" fill="#5587CC" stroke="#1A2036" stroke-width="0.8"/>
<circle cx="378" cy="644" r="1.75" fill="#5587CC" stroke="#1A2036" stroke-width="0.8"/>
<circle cx="381.1" cy="644.5" r="1.75" fill="#5587CC" stroke="#1A2036" stroke-width="0.8"/>
<circle cx="421.9" cy="555.6" r="1.75" fill="#5587CC" stroke="#1A2036" stroke-width="0.8"/>
<circle cx="428.2" cy="554.2" r="1.75" fill="#5587CC" stroke="#1A2036" stroke-width="0.8"/>
<circle cx="440.3" cy="571.3" r="1.75" fill="#5587CC" stroke="#1A2036" stroke-width="0.8"/>
<circle cx="434.4" cy="581.9" r="1.75" fill="#5587CC" stroke="#1A2036" stroke-width="0.8"/>
<circle cx="443.6" cy="581.2" r="1.75" fill="#5587CC" stroke="#1A2036" stroke-width="0.8"/>
<circle cx="415.3" cy="585.4" r="1.75" fill="#5587CC" stroke="#1A2036" stroke-width="0.8"/>
<circle cx="409" cy="589.2" r="1.75" fill="#5587CC" stroke="#1A2036" stroke-width="0.8"/>
<circle cx="456.1" cy="586.9" r="1.75" fill="#5587CC" stroke="#1A2036" stroke-width="0.8"/>
<circle cx="459.6" cy="589.6" r="1.75" fill="#5587CC" stroke="#1A2036" stroke-width="0.8"/>
<circle cx="440.3" cy="592.7" r="1.75" fill="#5587CC" stroke="#1A2036" stroke-width="0.8"/>
<circle cx="440.3" cy="595.4" r="1.75" fill="#5587CC" stroke="#1A2036" stroke-width="0.8"/>
<circle cx="443.6" cy="597.3" r="1.75" fill="#5587CC" stroke="#1A2036" stroke-width="0.8"/>
<circle cx="443.6" cy="601.7" r="1.75" fill="#5587CC" stroke="#1A2036" stroke-width="0.8"/>
<circle cx="428.2" cy="595" r="1.75" fill="#5587CC" stroke="#1A2036" stroke-width="0.8"/>
<circle cx="399.8" cy="597.9" r="1.75" fill="#5587CC" stroke="#1A2036" stroke-width="0.8"/>
<circle cx="459.6" cy="598.8" r="1.75" fill="#5587CC" stroke="#1A2036" stroke-width="0.8"/>
<circle cx="437.5" cy="600.4" r="1.75" fill="#5587CC" stroke="#1A2036" stroke-width="0.8"/>
<circle cx="390.2" cy="601.7" r="1.75" fill="#5587CC" stroke="#1A2036" stroke-width="0.8"/>
<circle cx="406.1" cy="601.2" r="1.75" fill="#5587CC" stroke="#1A2036" stroke-width="0.8"/>
<circle cx="413.8" cy="602.3" r="1.75" fill="#5587CC" stroke="#1A2036" stroke-width="0.8"/>
<circle cx="415.3" cy="601.3" r="1.75" fill="#5587CC" stroke="#1A2036" stroke-width="0.8"/>
<circle cx="428.2" cy="602.7" r="1.75" fill="#5587CC" stroke="#1A2036" stroke-width="0.8"/>
<circle cx="396.5" cy="604.6" r="1.75" fill="#5587CC" stroke="#1A2036" stroke-width="0.8"/>
<circle cx="399.8" cy="606.2" r="1.75" fill="#5587CC" stroke="#1A2036" stroke-width="0.8"/>
<circle cx="393.2" cy="608.5" r="1.75" fill="#5587CC" stroke="#1A2036" stroke-width="0.8"/>
<circle cx="406.1" cy="606.9" r="1.75" fill="#5587CC" stroke="#1A2036" stroke-width="0.8"/>
<circle cx="409" cy="606.9" r="1.75" fill="#5587CC" stroke="#1A2036" stroke-width="0.8"/>
<circle cx="402.8" cy="609.4" r="1.75" fill="#5587CC" stroke="#1A2036" stroke-width="0.8"/>
<circle cx="409" cy="609.4" r="1.75" fill="#5587CC" stroke="#1A2036" stroke-width="0.8"/>
<circle cx="412.5" cy="608.1" r="1.75" fill="#5587CC" stroke="#1A2036" stroke-width="0.8"/>
<circle cx="440.3" cy="606.5" r="1.75" fill="#5587CC" stroke="#1A2036" stroke-width="0.8"/>
<circle cx="445.2" cy="606.9" r="1.75" fill="#5587CC" stroke="#1A2036" stroke-width="0.8"/>
<circle cx="418.2" cy="610.4" r="1.75" fill="#5587CC" stroke="#1A2036" stroke-width="0.8"/>
<circle cx="386.9" cy="616.5" r="1.75" fill="#5587CC" stroke="#1A2036" stroke-width="0.8"/>
<circle cx="393.2" cy="617.7" r="1.75" fill="#5587CC" stroke="#1A2036" stroke-width="0.8"/>
<circle cx="402.8" cy="614.6" r="1.75" fill="#5587CC" stroke="#1A2036" stroke-width="0.8"/>
<circle cx="406.1" cy="616.2" r="1.75" fill="#5587CC" stroke="#1A2036" stroke-width="0.8"/>
<circle cx="409" cy="617.1" r="1.75" fill="#5587CC" stroke="#1A2036" stroke-width="0.8"/>
<circle cx="412.5" cy="618.1" r="1.75" fill="#5587CC" stroke="#1A2036" stroke-width="0.8"/>
<circle cx="418.6" cy="617.7" r="1.75" fill="#5587CC" stroke="#1A2036" stroke-width="0.8"/>
<circle cx="428.2" cy="614.6" r="1.75" fill="#5587CC" stroke="#1A2036" stroke-width="0.8"/>
<circle cx="431.1" cy="612.7" r="1.75" fill="#5587CC" stroke="#1A2036" stroke-width="0.8"/>
<circle cx="434.4" cy="612.7" r="1.75" fill="#5587CC" stroke="#1A2036" stroke-width="0.8"/>
<circle cx="434.4" cy="615.8" r="1.75" fill="#5587CC" stroke="#1A2036" stroke-width="0.8"/>
<circle cx="437.8" cy="616.5" r="1.75" fill="#5587CC" stroke="#1A2036" stroke-width="0.8"/>
<circle cx="441.7" cy="614.6" r="1.75" fill="#5587CC" stroke="#1A2036" stroke-width="0.8"/>
<circle cx="445.2" cy="614.2" r="1.75" fill="#5587CC" stroke="#1A2036" stroke-width="0.8"/>
<circle cx="468.6" cy="615.8" r="1.75" fill="#5587CC" stroke="#1A2036" stroke-width="0.8"/>
<circle cx="471.5" cy="617.7" r="1.75" fill="#5587CC" stroke="#1A2036" stroke-width="0.8"/>
<circle cx="456.1" cy="614.6" r="1.75" fill="#5587CC" stroke="#1A2036" stroke-width="0.8"/>
<circle cx="386.9" cy="625.2" r="1.75" fill="#5587CC" stroke="#1A2036" stroke-width="0.8"/>
<circle cx="386.9" cy="638.7" r="1.75" fill="#5587CC" stroke="#1A2036" stroke-width="0.8"/>
<circle cx="393.2" cy="630.4" r="1.75" fill="#5587CC" stroke="#1A2036" stroke-width="0.8"/>
<circle cx="395.2" cy="626.5" r="1.75" fill="#5587CC" stroke="#1A2036" stroke-width="0.8"/>
<circle cx="396.5" cy="620.8" r="1.75" fill="#5587CC" stroke="#1A2036" stroke-width="0.8"/>
<circle cx="402.8" cy="620" r="1.75" fill="#5587CC" stroke="#1A2036" stroke-width="0.8"/>
<circle cx="406.1" cy="633.5" r="1.75" fill="#5587CC" stroke="#1A2036" stroke-width="0.8"/>
<circle cx="409" cy="615.6" r="1.75" fill="#5587CC" stroke="#1A2036" stroke-width="0.8"/>
<circle cx="415.7" cy="618.8" r="1.75" fill="#5587CC" stroke="#1A2036" stroke-width="0.8"/>
<circle cx="412.5" cy="623.3" r="1.75" fill="#5587CC" stroke="#1A2036" stroke-width="0.8"/>
<circle cx="415.7" cy="623.8" r="1.75" fill="#5587CC" stroke="#1A2036" stroke-width="0.8"/>
<circle cx="415.7" cy="640.6" r="1.75" fill="#5587CC" stroke="#1A2036" stroke-width="0.8"/>
<circle cx="424.8" cy="646.3" r="1.75" fill="#5587CC" stroke="#1A2036" stroke-width="0.8"/>
<circle cx="428.2" cy="618.1" r="1.75" fill="#5587CC" stroke="#1A2036" stroke-width="0.8"/>
<circle cx="434.4" cy="618.8" r="1.75" fill="#5587CC" stroke="#1A2036" stroke-width="0.8"/>
<circle cx="440.7" cy="616.2" r="1.75" fill="#5587CC" stroke="#1A2036" stroke-width="0.8"/>
<circle cx="444" cy="619.4" r="1.75" fill="#5587CC" stroke="#1A2036" stroke-width="0.8"/>
<circle cx="444" cy="622.7" r="1.75" fill="#5587CC" stroke="#1A2036" stroke-width="0.8"/>
<circle cx="444" cy="626.5" r="1.75" fill="#5587CC" stroke="#1A2036" stroke-width="0.8"/>
<circle cx="439.8" cy="607" r="1.75" fill="#5587CC" stroke="#1A2036" stroke-width="0.8"/>
<circle cx="453.2" cy="618.8" r="1.75" fill="#5587CC" stroke="#1A2036" stroke-width="0.8"/>
<circle cx="453.2" cy="623.8" r="1.75" fill="#5587CC" stroke="#1A2036" stroke-width="0.8"/>
<circle cx="453.2" cy="626.2" r="1.75" fill="#5587CC" stroke="#1A2036" stroke-width="0.8"/>
<circle cx="453.2" cy="631" r="1.75" fill="#5587CC" stroke="#1A2036" stroke-width="0.8"/>
<circle cx="456.7" cy="615" r="1.75" fill="#5587CC" stroke="#1A2036" stroke-width="0.8"/>
<circle cx="462.5" cy="621.3" r="1.75" fill="#5587CC" stroke="#1A2036" stroke-width="0.8"/>
<circle cx="462.5" cy="623.8" r="1.75" fill="#5587CC" stroke="#1A2036" stroke-width="0.8"/>
<circle cx="462.5" cy="628.5" r="1.75" fill="#5587CC" stroke="#1A2036" stroke-width="0.8"/>
<circle cx="465.7" cy="628.1" r="1.75" fill="#5587CC" stroke="#1A2036" stroke-width="0.8"/>
<circle cx="465.7" cy="636.7" r="1.75" fill="#5587CC" stroke="#1A2036" stroke-width="0.8"/>
<circle cx="469" cy="638.7" r="1.75" fill="#5587CC" stroke="#1A2036" stroke-width="0.8"/>
<circle cx="469" cy="615.6" r="1.75" fill="#5587CC" stroke="#1A2036" stroke-width="0.8"/>
<circle cx="472.1" cy="618.1" r="1.75" fill="#5587CC" stroke="#1A2036" stroke-width="0.8"/>
<circle cx="472.1" cy="622.3" r="1.75" fill="#5587CC" stroke="#1A2036" stroke-width="0.8"/>
<circle cx="472.1" cy="628.5" r="1.75" fill="#5587CC" stroke="#1A2036" stroke-width="0.8"/>
<circle cx="472.1" cy="632.9" r="1.75" fill="#5587CC" stroke="#1A2036" stroke-width="0.8"/>
<circle cx="472.1" cy="646.3" r="1.75" fill="#5587CC" stroke="#1A2036" stroke-width="0.8"/>
<line x1="304.9" y1="619.3" x2="472.8" y2="619.3" stroke="#8a8a8a" stroke-width="0.8" stroke-opacity="0.8"/>
<polygon points="304.9,615.9 307.03,616.02 309.15,616.14 311.28,616.25 313.4,616.35 315.53,616.44 317.65,616.52 319.78,616.59 321.9,616.66 324.03,616.72 326.15,616.79 328.28,616.84 330.4,616.88 332.53,616.9 334.65,616.9 336.78,616.88 338.91,616.85 341.03,616.82 343.16,616.78 345.28,616.74 347.41,616.71 349.53,616.7 351.66,616.72 353.78,616.78 355.91,616.87 358.03,616.98 360.16,617.11 362.28,617.23 364.41,617.35 366.53,617.44 368.66,617.49 370.78,617.5 372.91,617.5 375.04,617.5 377.16,617.5 379.29,617.5 381.41,617.5 383.54,617.5 385.66,617.27 387.79,616.44 389.91,615.2 392.04,613.8 394.16,612.46 396.29,611.29 398.41,610.04 400.54,608.83 402.66,607.83 404.79,607.06 406.92,606.35 409.04,605.71 411.17,605.13 413.29,604.63 415.42,604.23 417.54,603.84 419.67,603.48 421.79,603.19 423.92,603.02 426.04,603 428.17,603.04 430.29,603.11 432.42,603.21 434.54,603.33 436.67,603.48 438.79,603.72 440.92,604.16 443.05,604.75 445.17,605.43 447.3,606.13 449.42,606.89 451.55,607.78 453.67,608.77 455.8,609.82 457.92,610.92 460.05,612.02 462.17,613.15 464.3,614.33 466.42,615.56 468.55,616.83 470.67,618.14 472.8,619.5 472.8,633.5 470.67,631.56 468.55,629.69 466.42,627.9 464.3,626.19 462.17,624.57 460.05,623.03 457.92,621.55 455.8,620.09 453.67,618.7 451.55,617.41 449.42,616.27 447.3,615.32 445.17,614.44 443.05,613.6 440.92,612.87 438.79,612.34 436.67,612.08 434.54,611.93 432.42,611.81 430.29,611.71 428.17,611.64 426.04,611.6 423.92,611.62 421.79,611.76 419.67,612 417.54,612.31 415.42,612.64 413.29,612.98 411.17,613.39 409.04,613.87 406.92,614.43 404.79,615.08 402.66,615.83 400.54,616.83 398.41,618.04 396.29,619.29 394.16,620.46 392.04,621.8 389.91,623.2 387.79,624.44 385.66,625.27 383.54,625.5 381.41,625.5 379.29,625.5 377.16,625.5 375.04,625.5 372.91,625.5 370.78,625.5 368.66,625.49 366.53,625.44 364.41,625.35 362.28,625.23 360.16,625.11 358.03,624.98 355.91,624.87 353.78,624.78 351.66,624.72 349.53,624.7 347.41,624.74 345.28,624.82 343.16,624.93 341.03,625.07 338.91,625.22 336.78,625.38 334.65,625.52 332.53,625.69 330.4,625.87 328.28,626.09 326.15,626.31 324.03,626.55 321.9,626.79 319.78,627.02 317.65,627.27 315.53,627.52 313.4,627.78 311.28,628.05 309.15,628.32 307.03,628.61 304.9,628.9" fill="#BEBEBE" fill-opacity="0.55"/>
<polyline points="304.9,622.4 307.03,622.32 309.15,622.23 311.28,622.15 313.4,622.06 315.53,621.98 317.65,621.89 319.78,621.81 321.9,621.72 324.03,621.64 326.15,621.55 328.28,621.46 330.4,621.38 332.53,621.29 334.65,621.21 336.78,621.13 338.91,621.04 341.03,620.94 343.16,620.86 345.28,620.78 347.41,620.73 349.53,620.7 351.66,620.72 353.78,620.78 355.91,620.87 358.03,620.98 360.16,621.11 362.28,621.23 364.41,621.35 366.53,621.44 368.66,621.49 370.78,621.5 372.91,621.5 375.04,621.5 377.16,621.5 379.29,621.5 381.41,621.5 383.54,621.5 385.66,621.27 387.79,620.44 389.91,619.2 392.04,617.8 394.16,616.46 396.29,615.29 398.41,614.04 400.54,612.83 402.66,611.83 404.79,611.07 406.92,610.39 409.04,609.79 411.17,609.26 413.29,608.81 415.42,608.43 417.54,608.08 419.67,607.74 421.79,607.48 423.92,607.32 426.04,607.3 428.17,607.34 430.29,607.41 432.42,607.51 434.54,607.63 436.67,607.78 438.79,608.03 440.92,608.52 443.05,609.17 445.17,609.93 447.3,610.72 449.42,611.58 451.55,612.6 453.67,613.73 455.8,614.96 457.92,616.23 460.05,617.53 462.17,618.86 464.3,620.26 466.42,621.73 468.55,623.26 470.67,624.85 472.8,626.5" fill="none" stroke="#EE6B7B" stroke-width="1.3" stroke-opacity="0.95"/>
<text x="406.8" y="552.6" font-size="5" fill="#111">4 out of range</text>
<path d="M420.6,551.5 L421.9,548.2 L423.2,551.5 Z" fill="#111"/>
<path d="M296.9,542.8 L296.9,695 L480,695" fill="none" stroke="#111" stroke-width="1.25"/>
<text x="293.9" y="576.2" font-size="9.8" text-anchor="end" fill="#111">2</text>
<text x="293.9" y="622.7" font-size="9.8" text-anchor="end" fill="#111">0</text>
<text x="293.9" y="669.2" font-size="9.8" text-anchor="end" fill="#111">-2</text>
<line x1="325.4" y1="695" x2="325.4" y2="696.8" stroke="#555" stroke-width="0.6"/>
<text transform="translate(331,702.4) rotate(-45)" font-size="9.4" text-anchor="end" fill="#111">Apr 2016</text>
<line x1="366.9" y1="695" x2="366.9" y2="696.8" stroke="#555" stroke-width="0.6"/>
<text transform="translate(372.5,702.4) rotate(-45)" font-size="9.4" text-anchor="end" fill="#111">Jul 2016</text>
<line x1="408.2" y1="695" x2="408.2" y2="696.8" stroke="#555" stroke-width="0.6"/>
<text transform="translate(413.8,702.4) rotate(-45)" font-size="9.4" text-anchor="end" fill="#111">Oct 2016</text>
<line x1="449.7" y1="695" x2="449.7" y2="696.8" stroke="#555" stroke-width="0.6"/>
<text transform="translate(455.3,702.4) rotate(-45)" font-size="9.4" text-anchor="end" fill="#111">Jan 2017</text>
<text x="389" y="738.5" font-size="9.4" text-anchor="middle" fill="#111">date</text>
<text transform="translate(284.7,619.1) rotate(-90)" font-size="9.5" text-anchor="middle" fill="#111">Normalized difference from median</text>
</svg>
</body></html>
